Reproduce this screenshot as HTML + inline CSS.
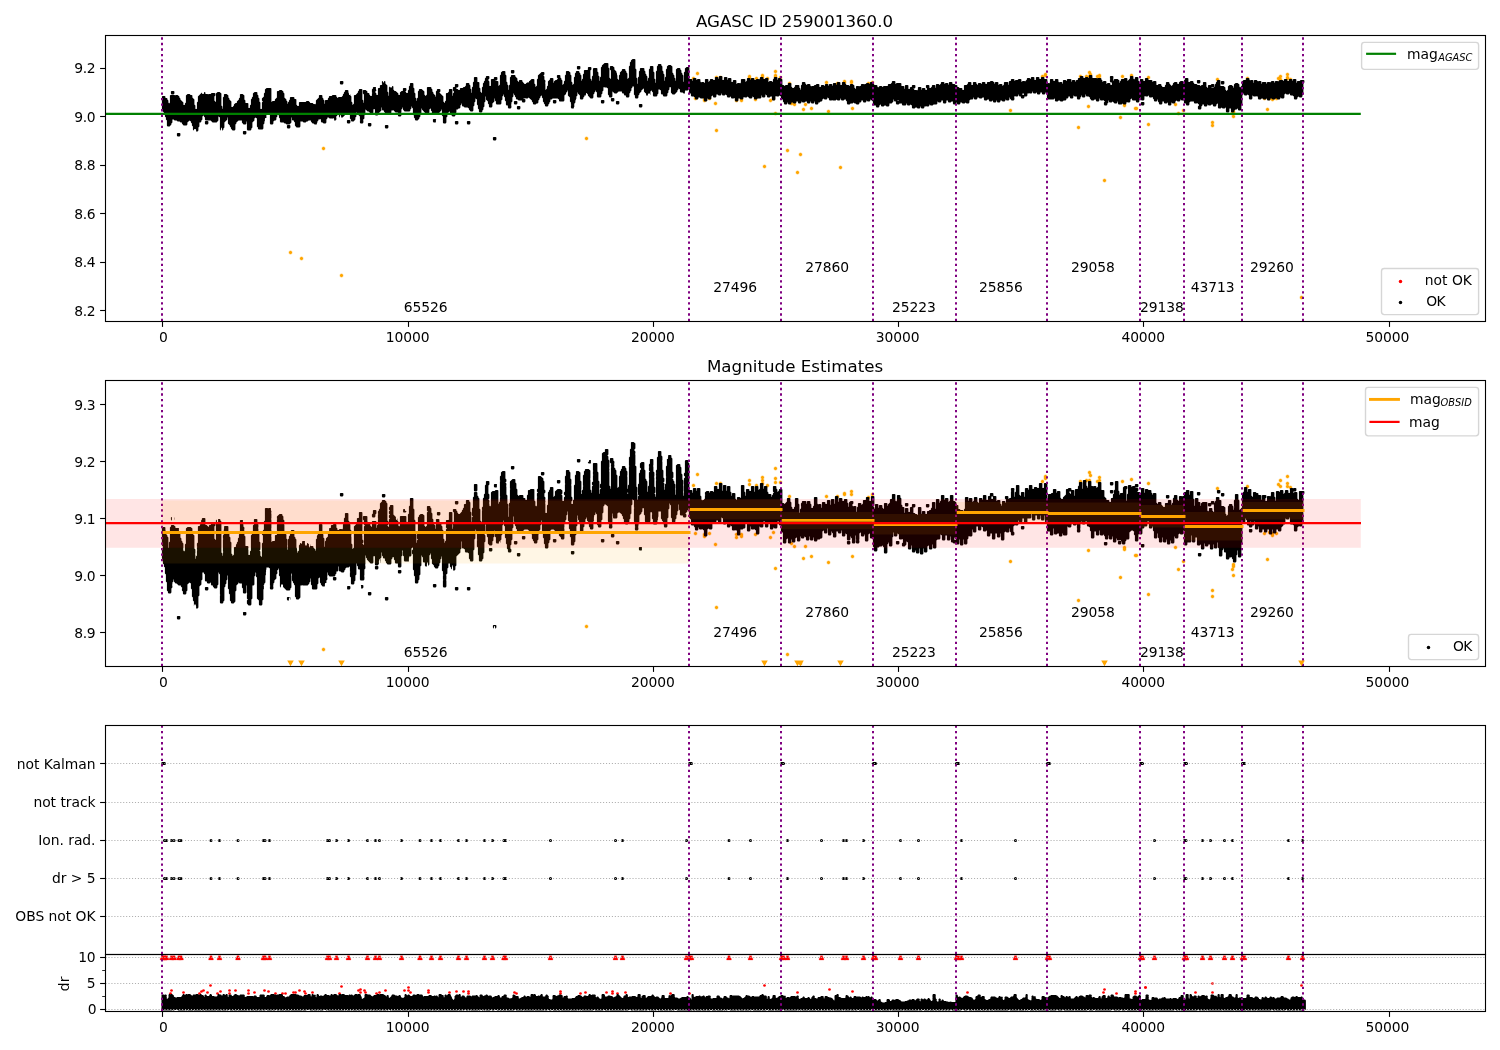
<!DOCTYPE html>
<html lang="en"><head><meta charset="utf-8"><title>AGASC ID 259001360.0</title>
<style>html,body{margin:0;padding:0;background:#fff}body{width:1500px;height:1050px;overflow:hidden}svg{display:block}</style>
</head><body>
<svg width="1500" height="1050" viewBox="0 0 1500 1050" font-family="'DejaVu Sans','Liberation Sans',sans-serif" fill="#000" role="img" aria-label="AGASC ID 259001360.0 magnitude estimates">
<rect width="1500" height="1050" fill="#fff"/>
<defs>
<clipPath id="c1"><rect x="105.5" y="35.5" width="1380.0" height="286.0"/></clipPath>
<clipPath id="c2"><rect x="105.5" y="380.5" width="1380.0" height="286.0"/></clipPath>
<clipPath id="c3"><rect x="105.5" y="725.5" width="1380.0" height="229.0"/></clipPath>
<clipPath id="c4"><rect x="105.5" y="954.5" width="1380.0" height="57.0"/></clipPath>
</defs>
<g id="panel1">
<g clip-path="url(#c1)">
<path d="M695.8 72.6h3.4v1.8h-3.4zm.8-.8h1.8v3.4h-1.8zM691.8 77.6h3.4v1.8h-3.4zm.8-.8h1.8v3.4h-1.8zM714.8 76.6h3.4v1.8h-3.4zm.8-.8h1.8v3.4h-1.8zM718.8 76.6h3.4v1.8h-3.4zm.8-.8h1.8v3.4h-1.8zM747.8 75.6h3.4v1.8h-3.4zm.8-.8h1.8v3.4h-1.8zM747.8 77.6h3.4v1.8h-3.4zm.8-.8h1.8v3.4h-1.8zM754.8 77.6h3.4v1.8h-3.4zm.8-.8h1.8v3.4h-1.8zM760.8 74.6h3.4v1.8h-3.4zm.8-.8h1.8v3.4h-1.8zM760.8 75.6h3.4v1.8h-3.4zm.8-.8h1.8v3.4h-1.8zM760.8 76.6h3.4v1.8h-3.4zm.8-.8h1.8v3.4h-1.8zM765.8 77.6h3.4v1.8h-3.4zm.8-.8h1.8v3.4h-1.8zM773.8 70.6h3.4v1.8h-3.4zm.8-.8h1.8v3.4h-1.8zM773.8 74.6h3.4v1.8h-3.4zm.8-.8h1.8v3.4h-1.8zM773.8 76.6h3.4v1.8h-3.4zm.8-.8h1.8v3.4h-1.8zM778.8 76.6h3.4v1.8h-3.4zm.8-.8h1.8v3.4h-1.8zM693.8 97.6h3.4v1.8h-3.4zm.8-.8h1.8v3.4h-1.8zM702.8 98.6h3.4v1.8h-3.4zm.8-.8h1.8v3.4h-1.8zM702.8 99.6h3.4v1.8h-3.4zm.8-.8h1.8v3.4h-1.8zM707.8 97.6h3.4v1.8h-3.4zm.8-.8h1.8v3.4h-1.8zM734.8 98.6h3.4v1.8h-3.4zm.8-.8h1.8v3.4h-1.8zM734.8 99.6h3.4v1.8h-3.4zm.8-.8h1.8v3.4h-1.8zM739.8 98.6h3.4v1.8h-3.4zm.8-.8h1.8v3.4h-1.8zM739.8 99.6h3.4v1.8h-3.4zm.8-.8h1.8v3.4h-1.8zM753.8 98.6h3.4v1.8h-3.4zm.8-.8h1.8v3.4h-1.8zM771.8 97.6h3.4v1.8h-3.4zm.8-.8h1.8v3.4h-1.8zM768.8 99.6h3.4v1.8h-3.4zm.8-.8h1.8v3.4h-1.8zM713.8 102.6h3.4v1.8h-3.4zm.8-.8h1.8v3.4h-1.8zM787.8 82.6h3.4v1.8h-3.4zm.8-.8h1.8v3.4h-1.8zM824.8 81.6h3.4v1.8h-3.4zm.8-.8h1.8v3.4h-1.8zM789.8 102.6h3.4v1.8h-3.4zm.8-.8h1.8v3.4h-1.8zM792.8 103.6h3.4v1.8h-3.4zm.8-.8h1.8v3.4h-1.8zM803.8 103.6h3.4v1.8h-3.4zm.8-.8h1.8v3.4h-1.8zM809.8 107.6h3.4v1.8h-3.4zm.8-.8h1.8v3.4h-1.8zM801.8 108.6h3.4v1.8h-3.4zm.8-.8h1.8v3.4h-1.8zM835.8 82.6h3.4v1.8h-3.4zm.8-.8h1.8v3.4h-1.8zM842.8 80.6h3.4v1.8h-3.4zm.8-.8h1.8v3.4h-1.8zM842.8 81.6h3.4v1.8h-3.4zm.8-.8h1.8v3.4h-1.8zM849.8 80.6h3.4v1.8h-3.4zm.8-.8h1.8v3.4h-1.8zM849.8 81.6h3.4v1.8h-3.4zm.8-.8h1.8v3.4h-1.8zM866.8 82.6h3.4v1.8h-3.4zm.8-.8h1.8v3.4h-1.8zM870.8 81.6h3.4v1.8h-3.4zm.8-.8h1.8v3.4h-1.8zM850.8 107.6h3.4v1.8h-3.4zm.8-.8h1.8v3.4h-1.8zM1040.8 75.6h3.4v1.8h-3.4zm.8-.8h1.8v3.4h-1.8zM1043.8 73.6h3.4v1.8h-3.4zm.8-.8h1.8v3.4h-1.8zM1043.8 74.6h3.4v1.8h-3.4zm.8-.8h1.8v3.4h-1.8zM1008.8 109.6h3.4v1.8h-3.4zm.8-.8h1.8v3.4h-1.8zM1087.8 71.6h3.4v1.8h-3.4zm.8-.8h1.8v3.4h-1.8zM1088.8 73.6h3.4v1.8h-3.4zm.8-.8h1.8v3.4h-1.8zM1087.8 75.6h3.4v1.8h-3.4zm.8-.8h1.8v3.4h-1.8zM1084.8 75.6h3.4v1.8h-3.4zm.8-.8h1.8v3.4h-1.8zM1078.8 75.6h3.4v1.8h-3.4zm.8-.8h1.8v3.4h-1.8zM1097.8 74.6h3.4v1.8h-3.4zm.8-.8h1.8v3.4h-1.8zM1097.8 75.6h3.4v1.8h-3.4zm.8-.8h1.8v3.4h-1.8zM1095.8 75.6h3.4v1.8h-3.4zm.8-.8h1.8v3.4h-1.8zM1120.8 75.6h3.4v1.8h-3.4zm.8-.8h1.8v3.4h-1.8zM1129.8 74.6h3.4v1.8h-3.4zm.8-.8h1.8v3.4h-1.8zM1086.8 105.6h3.4v1.8h-3.4zm.8-.8h1.8v3.4h-1.8zM1122.8 103.6h3.4v1.8h-3.4zm.8-.8h1.8v3.4h-1.8zM1122.8 104.6h3.4v1.8h-3.4zm.8-.8h1.8v3.4h-1.8zM1133.8 107.6h3.4v1.8h-3.4zm.8-.8h1.8v3.4h-1.8zM1134.8 107.6h3.4v1.8h-3.4zm.8-.8h1.8v3.4h-1.8zM1146.8 76.6h3.4v1.8h-3.4zm.8-.8h1.8v3.4h-1.8zM1173.8 103.6h3.4v1.8h-3.4zm.8-.8h1.8v3.4h-1.8zM1181.8 109.6h3.4v1.8h-3.4zm.8-.8h1.8v3.4h-1.8zM1176.8 112.6h3.4v1.8h-3.4zm.8-.8h1.8v3.4h-1.8zM1215.8 78.6h3.4v1.8h-3.4zm.8-.8h1.8v3.4h-1.8zM1231.8 110.6h3.4v1.8h-3.4zm.8-.8h1.8v3.4h-1.8zM1231.8 112.6h3.4v1.8h-3.4zm.8-.8h1.8v3.4h-1.8zM1230.8 112.6h3.4v1.8h-3.4zm.8-.8h1.8v3.4h-1.8zM1245.8 77.6h3.4v1.8h-3.4zm.8-.8h1.8v3.4h-1.8zM1285.8 73.6h3.4v1.8h-3.4zm.8-.8h1.8v3.4h-1.8zM1278.8 75.6h3.4v1.8h-3.4zm.8-.8h1.8v3.4h-1.8zM1276.8 77.6h3.4v1.8h-3.4zm.8-.8h1.8v3.4h-1.8zM1285.8 76.6h3.4v1.8h-3.4zm.8-.8h1.8v3.4h-1.8zM1278.8 78.6h3.4v1.8h-3.4zm.8-.8h1.8v3.4h-1.8zM1285.8 77.6h3.4v1.8h-3.4zm.8-.8h1.8v3.4h-1.8zM1288.8 78.6h3.4v1.8h-3.4zm.8-.8h1.8v3.4h-1.8zM1265.8 108.6h3.4v1.8h-3.4zm.8-.8h1.8v3.4h-1.8zM1270.8 97.6h3.4v1.8h-3.4zm.8-.8h1.8v3.4h-1.8zM1270.8 98.6h3.4v1.8h-3.4zm.8-.8h1.8v3.4h-1.8zM1262.8 97.6h3.4v1.8h-3.4zm.8-.8h1.8v3.4h-1.8zM1267.8 97.6h3.4v1.8h-3.4zm.8-.8h1.8v3.4h-1.8zM1274.8 97.6h3.4v1.8h-3.4zm.8-.8h1.8v3.4h-1.8zM321.8 147.6h3.4v1.8h-3.4zm.8-.8h1.8v3.4h-1.8zM288.8 251.6h3.4v1.8h-3.4zm.8-.8h1.8v3.4h-1.8zM299.8 257.6h3.4v1.8h-3.4zm.8-.8h1.8v3.4h-1.8zM339.8 274.6h3.4v1.8h-3.4zm.8-.8h1.8v3.4h-1.8zM584.8 137.6h3.4v1.8h-3.4zm.8-.8h1.8v3.4h-1.8zM714.8 129.6h3.4v1.8h-3.4zm.8-.8h1.8v3.4h-1.8zM762.8 165.6h3.4v1.8h-3.4zm.8-.8h1.8v3.4h-1.8zM785.8 149.6h3.4v1.8h-3.4zm.8-.8h1.8v3.4h-1.8zM798.8 153.6h3.4v1.8h-3.4zm.8-.8h1.8v3.4h-1.8zM795.8 171.6h3.4v1.8h-3.4zm.8-.8h1.8v3.4h-1.8zM838.8 166.6h3.4v1.8h-3.4zm.8-.8h1.8v3.4h-1.8zM1102.8 179.6h3.4v1.8h-3.4zm.8-.8h1.8v3.4h-1.8zM1299.8 296.6h3.4v1.8h-3.4zm.8-.8h1.8v3.4h-1.8zM1076.8 126.6h3.4v1.8h-3.4zm.8-.8h1.8v3.4h-1.8zM1118.8 116.6h3.4v1.8h-3.4zm.8-.8h1.8v3.4h-1.8zM1146.8 123.6h3.4v1.8h-3.4zm.8-.8h1.8v3.4h-1.8zM1210.8 121.6h3.4v1.8h-3.4zm.8-.8h1.8v3.4h-1.8zM1210.8 124.6h3.4v1.8h-3.4zm.8-.8h1.8v3.4h-1.8zM1231.8 115.6h3.4v1.8h-3.4zm.8-.8h1.8v3.4h-1.8zM773.8 112.6h3.4v1.8h-3.4zm.8-.8h1.8v3.4h-1.8zM826.8 110.6h3.4v1.8h-3.4zm.8-.8h1.8v3.4h-1.8z" fill="#ffa500"/>
<path d="M493.6 136.9l-.7 .7l0 2l.7 .8l2 0l.8-.8l0-2l-.8-.7zM177.6 132.9l-.7 .7l0 2l.7 .8l2 0l.8-.8l0-2l-.8-.7zM243.6 130.9l-.7 .7l0 2l.7 .8l2 0l.8-.8l0-2l-.8-.7zM385.6 124.9l-.7 .7l0 2l.7 .8l2 0l.8-.8l0-2l-.8-.7zM287.6 124.9l-.7 .7l0 2l.7 .8l2 0l.8-.8l0-2l-.8-.7zM368.6 122.9l-.7 .7l0 2l.7 .8l2 0l.8-.8l0-2l-.8-.7zM467.6 120.9l-.7 .7l0 2l.7 .8l2 0l.8-.8l0-2l-.8-.7zM455.6 120.9l-.7 .7l0 2l.7 .8l2 0l.8-.8l0-2l-.8-.7zM205.6 120.9l-.7 .7l0 2l.7 .8l2 0l.8-.8l0-2l-.8-.7zM347.6 119.9l-.7 .7l0 2l.7 .8l2 0l.8-.8l0-2l-.8-.7zM433.6 118.9l-.7 .7l0 2l.7 .8l2 0l.3-.3l0-2l.2-.2l0-.5l-.5-.5zM517.6 105.9l-.7 .7l0 2l.7 .8l2 0l.8-.8l0-2l-.8-.7zM639.6 103.9l-.7 .7l0 2l.7 .8l2 0l.8-.8l0-2l-.8-.7zM1141.6 101.9l-.7 .7l0 2l.7 .8l2 0l.8-.8l0-2l-.8-.7zM616.6 100.9l-.7 .7l0 2l.7 .8l2 0l.8-.8l0-2l-.8-.7zM514.6 100.9l-.7 .7l0 2l.7 .8l2 0l.8-.8l0-2l-.8-.7zM601.6 99.9l-.7 .7l0 2l.7 .8l2 0l.8-.8l0-2l-.8-.7zM553.6 99.9l-.7 .7l0 2l.7 .8l2 0l.8-.8l0-2l-.8-.7zM611.6 97.9l-.7 .7l0 2l.7 .8l2 0l.8-.8l0-2l-.8-.7zM171.6 90.9l-.7 .7l0 2l.7 .8l2 0l.8-.8l0-2l-.8-.7zM1221.6 80.9l-.7 .7l0 2l.7 .8l2 0l.8-.8l0-2l-.8-.7zM340.6 80.9l-.7 .7l0 2l.7 .8l2 0l.8-.8l0-2l-.8-.7zM1197.6 79.9l-.7 .7l0 2l.7 .8l2 0l.8-.8l0-2l-.8-.7zM511.6 69.9l-.7 .7l0 2l.7 .8l2 0l.8-.8l0-2l-.8-.7zM577.6 65.9l-.7 .7l0 2l.7 .8l2 0l.8-.8l0-2l-.8-.7zM161.9 109.6l1 1l0 1l1 1l0 1l1 1l0 2l1 1l0 2l1 1l0 5l.7 .8l2 0l1.8-1.8l0-1l1-1l0-3l.2-.2l1 0l1 1l2 0l1 1l2 0l1 1l1 0l.3 .2l0 1l1.7 1.8l3 0l.8-.8l0-2l2.2-2.2l1.3 1.2l0 1l1 1l0 2l1 1l0 3l.7 .8l.3 0l0-.5l.5-1l1.2 0l.5 1l0 1.5l1.5 0l.8-.8l0-3l1-1l0-4l.2-.2l1 0l.8-.8l0-1l1-1l0-3l1.2-1.2l.3 .2l0 1l1 1l0 2l.7 .8l5 0l2 2l4 0l1.8-1.8l0-4l.2-.2l1.3 1.2l0 12l.7 .8l.3 0l0-1.5l.2-.3l0-.7l.3-.3l.5 .3l0 .7l.2 .3l0 1.5l.5 0l.8-.8l0-1l1-1l0-5l3-3l0-2l.2-.2l.3 .2l0 6l2 2l0 1l1 1l0 1l1.7 1.8l2 0l.8-.8l0-5l1-1l0-1l2.2-2.2l3 0l.3 .2l0 2l1.7 1.8l2 0l.8-.8l0-2l.2-.2l.3 .2l0 8l.7 .8l3 0l.8-.8l0-1l1-1l0-5l2-2l0-2l1.2-1.2l1.3 1.2l0 8l1 1l0 1l.7 .8l4 0l.8-.8l0-4l1-1l0-2l.5-.5l0-2l.2-.2l0-.8l.3-.2l1 0l0-3.3l.2-.2l2 0l.5-.5l.8 .7l0 9l.7 .8l2 0l.8-.8l0-2l1.2-1.2l1 0l.8-.8l0-2l1-1l0-2l.2-.2l1.3 1.2l0 2l1 1l0 3l.7 .8l3 0l1 1l1 0l1 1l3 0l1.8-1.8l0-5l.2-.2l.3 .2l0 2l.7 .8l1 0l.3 .2l0 1l1 1l0 3l1.7 1.8l3 0l.8-.8l0-5l.2-.2l2 0l1 1l2 0l1-1l1 0l1-1l2 0l.3 .2l0 1l1.7 1.8l1 0l1 1l2 0l.3-.3l0-1l.5-.5l0-1l1-1l0-1l.2-.2l1 0l.5-.5l.8 .7l0 2l.7 .8l1 0l1 1l2 0l.8-.8l0-3l1-1l0-1l.2-.2l1 0l1 1l3 0l.3 .2l0 1l.2-1.2l.5-.3l.5 1l0 1.3l1.5 0l.8-.8l0-2l-.5-.5l1.5-1.5l0-1l.7-.7l.8 .7l0 2l.7 .8l.3 0l0-1.5l.5-1l.5 .2l0 .5l.2 .3l0 1.5l1.5 0l3-3l1 0l1-1l1 0l1.3 1.2l0 4l1 1l0 1l.7 .8l2 0l1.8-1.8l0-2l1-1l0-4l.2-.2l.3 .2l0 1l3 3l0 3l.5 .5l-.5 .5l0 2l.7 .8l2 0l.8-.8l0-2l-.5-.5l1.5-1.5l0-3l1-1l0-5l.2-.2l2 2l1 0l2 2l2 0l.8-.8l0-3l.7-.7l.8 .7l0 5l.7 .8l2 0l.3-.3l0-1l3.5-3.5l0-3l.2-.2l.3 .2l0 2l.7 .8l1 0l.3 .2l0 1l1.7 1.8l5 0l.8-.8l0-2l.2-.2l1 0l.5-.5l2.5 2.5l2 0l.8 .7l-.5 .5l0 2l.7 .8l2 0l.8-.8l0-2l-.5-.5l.5-.5l0-3l1-1l0-1l.2-.2l.3 .2l0 2l1.7 1.8l5 0l.8-.8l0-1l1-1l0-2l.2-.2l.3 .2l0 1l1 1l0 6l1 1l0 2l1 1l0 1l.7 .8l2 0l1.8-1.8l0-1l1-1l0-2l1-1l0-5l.2-.2l.3 .2l0 1l3.7 3.8l3 0l.8-.8l0-3l1.2-1.2l.3 .2l0 2l1 1l0 2l.7 .8l6 0l.8-.8l0-1l2-2l0-1l.2-.2l.3 .2l0 6l1 1l0 6l.7 .8l2 0l.8-.8l0-5l1-1l0-2l1-1l0-1l1.2-1.2l.3 .2l0 2l2.7 2.8l2 0l.8-.8l0-2l1-1l0-3l.2-.2l1 0l1-1l1 0l.8-.8l0-2l1-1l0-1l.2-.2l.3 .2l0 2l.7 .8l1 0l1 1l3 0l1.3 1.2l0 1l1.7 1.8l2 0l.8-.8l0-4l1-1l0-3l1-1l0-3l.2-.2l1.3 1.2l0 5l1 1l0 3l1 1l0 2l.7 .8l2 0l.8-.8l0-1l1-1l0-2l1-1l0-4l1-1l0-5l.2-.2l.3 .2l0 3l2 2l0 2l1 1l0 2l.7 .8l2 0l.8-.8l0-3l2-2l0-3l.2-.2l.3 .2l0 2l1 1l0 2l.7 .8l4 0l.8-.8l0-3l1-1l0-3l1-1l0-1l.2-.2l.3 .2l0 2l1 1l0 3l1 1l0 3l.7 .8l1 0l.3 .2l0 2l.7 .8l2 0l.8-.8l0-2l-.5-.5l.5-.5l0-2l1-1l0-4l1-1l0-3l.2-.2l.3 .2l0 1l1 1l0 1l1 1l0 1l.7 .8l1 0l1 1l3 0l.3 .2l0 1l.7 .8l2 0l.8-.8l0-2l-.8-.7l-1 0l-.2-.3l.2-.2l1 0l.5-.5l.5 .5l2 0l1-1l3.3 3.2l0 1l1 1l0 1l.7 .8l2 0l1-1l1 0l.8-.8l0-2l1-1l0-1l1-1l0-1l1.2-1.2l.3 .2l0 2l1 1l0 3l1 1l0 1l1 1l0 1l.7 .8l2 0l.8-.8l0-1l1-1l0-1l1-1l0-2l.2-.2l1 0l1-1l5 0l1.3 1.2l.2 1.3l.5 .5l4 0l.8-.8l0-5l1.7-1.7l0-.8l.3-.5l1-1l0-1l.2-.2l.3 .2l0 5l2 2l0 4l1 1l0 2l.5 .5l-.5 .5l0 2l.7 .8l2 0l.3-.3l0-1l.5-.7l0-.8l-.5-.5l.5-.5l0-1l1-1l0-2l.5-.5l0-.7l.5-.8l0-2l1-1l0-3l.2-.2l.3 .2l0 1l2 2l0 3l.7 .8l2 0l.8-.8l0-1l1-1l0-1l.2-.2l1 0l.3-.3l0-1l.2-.2l0-.8l.3-.2l.5 .2l0 .5l1 1l0 1l2.7 2.8l2 0l.8-.8l0-3l1-1l0-1l1-1l0-1l.2-.2l.3 .2l0 1l1 1l0 4l.7 .8l3 0l.8-.8l0-2l1-1l0-2l1-1l0-3l.7-.7l.5 .5l2 0l1.3 1.2l0 6l1 1l0 1l.7 .8l2 0l.8-.8l0-5l.2-.2l2 2l2 0l2-2l3 0l.3 .2l0 1l.7 .8l1 0l.3 .2l0 1l.7 .8l1 0l.3 .2l0 1l.7 .8l2 0l.8-.8l0-3l1-1l0-1l1-1l0-2l1-1l0-1l.2-.2l1 0l.3 .2l0 8l1 1l0 2l.7 .8l2 0l.8-.8l0-2l1-1l0-1l2-2l0-1l2.2-2.2l.3 .2l0 3l1 1l0 .5l.7 0l.3 .3l0 .5l.2 .2l0 1.3l1.8 0l0-1l.5-1l1.2 0l.3 .2l.2 1.3l.3-.3l0-3l1.2-1.2l.3 .2l0 1l1 1l0 3l.7 .8l3 0l.8-.8l0-1l1-1l0-4l.2-.2l1 0l1.3 1.2l0 3l.7 .8l1 0l.3 .2l0 1l.7 .8l3 0l.8-.8l0-2l1-1l0-2l1-1l0-2l.7-.7l.8 .7l0 5l1.7 1.8l2 0l2.8-2.8l0-1l1-1l0-1l.2-.2l1.3 1.2l0 2l.7 .8l2 0l1 1l1.3 0l0-1.8l.2-.2l0-.8l.3-.2l1.2 0l.3 .2l0 .5l1.7-1.7l.3 .2l0 3l.7 .8l1 0l.3 .2l0 2l.7 .8l2 0l1.3 1.2l0 1l.7 .8l2 0l.8-.8l0-1l.2-.2l1 0l1 1l3 0l.3 .2l0 2l.7 .8l2 0l.8-.8l0-2l.2-.2l1 1l2 0l.8-.8l0-2l1.2-1.2l.3 .2l0 1l.7 .8l2 0l.8-.8l0-2l.2-.2l1 0l1 1l2 0l.8-.8l0-1l.2-.2l.3 .2l0 1l.7 .8l2 0l1-1l1.3 1.2l0 1l.7 .8l2 0l1-1l.3 .2l0 1l.7 .8l2 0l.5-.5l.8 .7l0 2l.7 .8l2 0l.8-.8l0-2l.2-.2l1 0l1 1l2 0l.8-.8l0-1l.7-.7l.5 .5l2 0l1-1l2 2l2 0l.8-.8l0-1l.2-.2l1.3 1.2l0 1l.7 .8l2 0l1-1l3 0l.8-.8l0-2l.2-.2l.3 .2l0 1l.7 .8l2 0l.8-.8l0-2l.2-.2l1.3 1.2l0 1l.7 .8l2 0l1-1l1 0l.3 .2l0 3l.7 .8l2 0l.8-.8l0-3l.7-.7l.5 .5l2 0l1-1l1.3 1.2l0 2l.7 .8l1 0l.3 .2l0 2l1 1l0 1l.7 .8l2 0l.8-.8l0-1l.2-.2l.3 .2l0 1l.7 .8l2 0l.8-.8l0-1l.2-.2l1 0l1 1l2 0l.8-.8l0-1l.2-.2l1 0l.3 .2l0 1l.7 .8l2 0l.8-.8l0-1l.2-.2l1 1l2 0l1-1l1 0l.3 .2l0 1l.7 .8l2 0l.8-.8l0-1l.2-.2l.3 .2l0 1l.7 .8l2 0l.8-.8l0-1l.2-.2l.3 .2l0 2l.7 .8l2 0l.8-.8l0-1l.2-.2l1 0l1-1l1 0l.8-.8l0-1l1.2-1.2l1 1l2 0l.8-.8l0-1l.2-.2l1.3 1.2l0 1l.7 .8l2 0l.5-.5l.5 .5l3 0l1-1l1 1l2 0l.8-.8l0-1l.2-.2l.3 .2l0 1l.7 .8l2 0l1-1l1 0l.3 .2l0 1l1 1l0 2l.7 .8l2 0l1-1l2 0l1-1l1 1l1 0l1 1l2 0l.8-.8l0-1l.2-.2l1 0l.8-.8l0-1l.2-.2l1 0l.3 .2l0 1l.7 .8l2 0l.8-.8l0-1l.2-.2l1 1l2 0l.8-.8l0-1l.2-.2l2.3 2.2l0 3l.7 .8l2 0l.3 .2l0 1l.7 .8l2 0l.8-.8l0-1l1.2-1.2l.3 .2l0 1l.7 .8l2 0l1-1l1 0l1 1l2 0l.8-.8l0-2l.2-.2l2 0l1.8-1.8l0-2l.2-.2l.3 .2l0 1l.7 .8l1 0l.3 .2l0 2l.7 .8l2 0l1-1l2 0l.3 .2l0 1l.7 .8l3 0l.8-.8l0-1l.2-.2l.3 .2l0 1l.7 .8l2 0l1-1l1.3 1.2l0 2l.7 .8l2 0l1-1l1 0l1 1l2 0l.8-.8l0-1l.2-.2l.3 .2l0 1l.7 .8l2 0l.8-.8l0-1l.2-.2l1 0l.5-.5l.5 .5l2 0l.8-.8l0-1l.2-.2l1 1l2 0l1-1l3 0l.8-.8l0-2l.2-.2l1 1l2 0l.8-.8l0-1l.2-.2l1 0l.3 .2l0 2l.7 .8l2 0l.8-.8l0-2l.2-.2l1 0l.3 .2l0 1l.7 .8l2 0l1-1l1 0l.3 .2l0 2l.7 .8l2 0l.8-.8l0-1l.2-.2l.3 .2l0 1l.7 .8l2 0l.8-.8l0-1l.2-.2l1 0l1 1l2 0l1-1l1 1l2 0l.8-.8l0-2l1.2-1.2l2 0l.8-.8l0-1l.2-.2l.3 .2l0 1l.7 .8l2 0l.8-.8l0-1l.2-.2l1 0l1 1l2 0l1-1l1 0l.3 .2l0 2l.7 .8l2 0l1-1l1 0l.3 .2l0 1l.7 .8l2 0l1-1l.3 .2l0 1l.7 .8l2 0l.8-.8l0-1l.2-.2l.3 .2l0 1l.7 .8l2 0l.8-.8l0-1l.2-.2l1 0l1 1l2 0l.8-.8l0-1l.2-.2l1 1l2 0l.8-.8l0-2l.2-.2l.3 .2l0 1l1.7 1.8l2 0l.8-.8l0-2l-.5-.5l1.2-1.2l.5 .5l2 0l.8-.8l0-1l.2-.2l.3 .2l0 1l.7 .8l1 0l.3 .2l0 1l.7 .8l2 0l.8-.8l0-1l.2-.2l2 0l.8-.8l0-2l.2-.2l1 0l.5-.5l.5 .5l2 0l.8-.8l0-1l.2-.2l.3 .2l0 1l.7 .8l2 0l1-1l.3 .2l0 1l.7 .8l2 0l.8-.8l0-1l.2-.2l1 0l.3 .2l0 1l.7 .8l2 0l.8-.8l0-1l.2-.2l.3 .2l0 1l1 1l0 4l.7 .8l6 0l1-1l.3 .2l0 2l.7 .8l2 0l1-1l1 0l1 1l2 0l1-1l2 0l.8-.8l0-1l.2-.2l1 0l.8-.8l0-1l.2-.2l1 0l.3 .2l0 1l.7 .8l2 0l.8-.8l0-2l.2-.2l1 1l2 0l.3 .2l0 2l.7 .8l2 0l.8-.8l0-1l1-1l0-1l.2-.2l.3 .2l0 1l.7 .8l2 0l.8-.8l0-2l.2-.2l.3 .2l0 1l.7 .8l2 0l1.3 1.2l0 1l1.7 1.8l2 0l1-1l1 0l.3 .2l0 1l.7 .8l2 0l.8-.8l0-2l.2-.2l.3 .2l0 1l.7 .8l2 0l.5-.5l1.8 1.7l-1 1l0 2l.7 .8l2 0l.8-.8l0-1l1-1l0-2l.2-.2l.3 .2l0 1l.7 .8l2 0l1-1l2 2l2 0l.8-.8l0-1l.2-.2l.3 .2l0 2l.7 .8l3 0l1-1l1 1l2 0l.8-.8l0-1l.7-.7l.5 .5l2 0l.8-.8l0-2l1.2-1.2l.3 .2l0 1l.7 .8l3 0l.3 .2l0 1l.7 .8l2 0l.8-.8l0-2l1-1l0-1l.2-.2l.3 .2l0 2l.7 .8l2 0l.8-.8l0-3l.7-.7l.5 .5l2 0l1-1l.3 .2l0 1l.7 .8l2 0l.5-.5l.8 .7l0 1l1 1l0 1l.7 .8l2 0l.8-.8l0-1l.2-.2l.3 .2l0 2l1 1l0 1l.7 .8l2 0l.8-.8l0-2l.2-.2l1 0l.3 .2l0 1l.7 .8l2 0l1-1l.3 .2l0 2l.7 .8l2 0l.8-.8l0-2l.2-.2l1 1l2 0l.8-.8l0-1l1.2-1.2l1 1l2 0l.8-.8l0-1l.2-.2l1 1l2 0l.3 .2l0 2l.7 .8l1 0l.3 .2l0 1l.7 .8l2 0l.8-.8l0-2l1.2-1.2l3 0l.3 .2l0 1l.7 .8l2 0l.5-.5l1.8 1.7l0 1l-1 1l0 2l.7 .8l2 0l.8-.8l0-2l1-1l0-1l.2-.2l1 0l.3 .2l0 1l.7 .8l2 0l.8-.8l0-1l.2-.2l1 1l2 0l1-1l1 0l.3 .2l0 1l.7 .8l2 0l.8-.8l0-1l1.2-1.2l.3 .2l0 4l.7 .8l2 0l1-1l1 1l2 0l1-1l.3 .2l0 4l.7 .8l2 0l.8-.8l0-3l.2-.2l1 0l.3 .2l0 3l.7 .8l2 0l.8-.8l0-1l1.2-1.2l1 0l1-1l.3 .2l0 1l.7 .8l2 0l.8-.8l0-5l1-1l0-8l1-1l0-1l.2-.2l.3 .2l0 1l.7 .8l2 0l1-1l1.3 1.2l0 3l.7 .8l2 0l.8-.8l0-3l.2-.2l1 1l2 0l.5-.5l.5 .5l1 0l.3 .2l0 2l.7 .8l2 0l1-1l1 0l1 1l2 0l1-1l.3 .2l0 1l.7 .8l2 0l.8-.8l0-1l.2-.2l1 0l1 1l2 0l1-1l1 0l1 1l2 0l.8-.8l0-1l.2-.2l1 1l2 0l.8-.8l0-3l1.2-1.2l1 1l2 0l1-1l.3 .2l0 1l.7 .8l2 0l1.3 1.2l0 2l.7 .8l2 0l.8-.8l0-1l1.2-1.2l1 1l2 0l.8-.8l0-1l1-1l0-11l1-1l0-2l-.8-.7l-3 0l-1 1l-2 0l-.7 .7l0 1l-.3 .3l-.2-.3l0-3l-.8-.7l-2 0l-.7 .7l0 1l-.3 .3l-.2-.3l0-1l-.8-.7l-2 0l-.7 .7l0 1l-.3 .3l-1 0l-.2-.3l0-1l-.8-.7l-2 0l-.7 .7l0 1l-.3 .3l-1-1l-3 0l-1.5 1.5l-.5-.5l-2 0l-.7 .7l0 1l-.3 .3l-.2-.3l0-1l-.8-.7l-2 0l-1.5 1.5l-.5-.5l-2 0l-.7 .7l0 1l-.3 .3l-.2-.3l0-1l-.8-.7l-3 0l-.7 .7l0 1l-.3 .3l-.2-.3l0-2l-.8-.7l-2 0l-.5 .5l-1.5-1.5l-2 0l-.7 .7l0 2l-.3 .3l-.2-.3l0-2l-.8-.7l-2 0l-.5 .5l-.7-.8l0-1l-.8-.7l-2 0l-.7 .7l0 1l-.3 .3l-2 0l-1.7 1.7l0 4l-1.8 1.8l-.7-.8l0-2l-1.8-1.7l-2 0l-1.7 1.7l0 3l-.3 .3l-.2-.3l0-1l-1.8-1.7l-2 0l-1.7 1.7l0 3l-1.3 1.3l-1.2-1.3l0-2l-1.8-1.7l-3 0l-.2-.3l0-5l-.8-.7l-2 0l-.7 .7l0 1l-1 1l0 1l-1 1l0 2l-.3 .3l-.2-.3l0-2l-.8-.7l-2 0l-1 1l-2 0l-.7 .7l0 2l-.3 .3l-1.2-1.3l0-4l-.8-.7l-2 0l-.7 .7l0 2l-.3 .3l-1 0l-1 1l-1-1l-2 0l-1-1l-2 0l-1.2-1.3l0-1l-.8-.7l-2 0l-1 1l-1 0l-.2-.3l0-3l-.8-.7l-2 0l-.7 .7l0 1l-1 1l0 3l-.3 .3l-.2-.3l0-2l-.8-.7l-2 0l-1.7 1.7l0 1l-.3 .3l-1 0l-.2-.3l0-1l-.8-.7l-2 0l-1.7 1.7l0 1l-1.3 1.3l-2.2-2.3l0-1l-.8-.7l-2 0l-.7 .7l0 2l-1 1l0 1l-.3 .3l-2 0l-1.2-1.3l0-1l-.8-.7l-2 0l-1 1l-1 0l-.2-.3l0-3l-.8-.7l-2 0l-1 1l-.2-.3l0-1l-.8-.7l-3 0l-.2-.3l0-1l-.8-.7l-2 0l-.7 .7l0 2l-.3 .3l-1 0l-.2-.3l0-1l-.8-.7l-2 0l-.7 .7l0 2l-.3 .3l-1.2-1.3l0-3l-.8-.7l-2 0l-.7 .7l0 1l-.8 .8l-.7-.8l0-2l-.8-.7l-2 0l-.7 .7l0 2l-2.3 2.3l-.2-.3l0-2l-.8-.7l-2 0l-1 1l-2 0l-.7 .7l0 1l-1 1l0 1l-.3 .3l-.2-.3l0-2l-1.8-1.7l-3 0l-.7 .7l0 1l-.3 .3l-.2-.3l0-1l-.5-.5l.5-.5l0-2l-.8-.7l-2 0l-.7 .7l0 2l.5 .5l-.5 .5l0 2l.7 .8l1 0l.3 .2l0 2l-.3 .3l-1 0l-.2-.3l0-1l-.8-.7l-2 0l-1 1l-.2-.3l0-2l-.8-.7l-2 0l-1 1l-.2-.3l0-1l-1-1l0-1l-.8-.7l-3 0l-.5 .5l-.5-.5l-4 0l-.2-.3l0-2l-.8-.7l-2 0l-.7 .7l0 2l-.3 .3l-1-1l-2 0l-1 1l-1 0l-.2-.3l0-1l-.8-.7l-2 0l-.7 .7l0 1l-.3 .3l-1 0l-.7 .7l0 1l-.3 .3l-1 0l-.7 .7l0 1l-.3 .3l-.2-.3l0-1l-.8-.7l-2 0l-.7 .7l0 1l-.3 .3l-.2-.3l0-2l-.8-.7l-3 0l-.7 .7l0 1l-.3 .3l-1-1l-2 0l-.7 .7l0 3l-.3 .3l-.2-.3l0-1l-.8-.7l-2 0l-.5 .5l-.7-.8l0-2l-.8-.7l-2 0l-.7 .7l0 1l-.3 .3l-1 0l-.2-.3l0-1l-.8-.7l-2 0l-.7 .7l0 3l-.8 .8l-.5-.5l-1 0l-.2-.3l0-3l-.8-.7l-2 0l-.2-.3l0-1l-.8-.7l-2 0l-.7 .7l0 1l-.3 .3l-1 0l-.2-.3l0-1l-.8-.7l-2 0l-.7 .7l0 2l-.3 .3l-1 0l-.2-.3l0-2l-.8-.7l-2 0l-.7 .7l0 1l-.3 .3l-1-1l-2 0l-.7 .7l0 1l-1.8 1.8l-.5-.5l-2 0l-1 1l-.2-.3l0-2l-.8-.7l-2 0l-1 1l-2 0l-1 1l-.2-.3l0-1l-.8-.7l-2 0l-.7 .7l0 1l-.3 .3l-1 0l-.7 .7l0 3l-.3 .3l-.2-.3l0-2l-.8-.7l-3 0l-.7 .7l0 2l-1.3 1.3l-.2-.3l0-1l-.8-.7l-2 0l-1 1l-.2-.3l0-2l-.8-.7l-2 0l-.7 .7l0 1l-.3 .3l-.2-.3l0-1l-1.8-1.7l-2 0l-1 1l-2 0l-.7 .7l0 1l-.3 .3l-1 0l-.2-.3l0-1l-.8-.7l-2 0l-.7 .7l0 1l-.3 .3l-1-1l-2 0l-.7 .7l0 1l-.3 .3l-1.2-1.3l0-1l-.8-.7l-2 0l-.7 .7l0 2l-.3 .3l-1 0l-.2-.3l0-2l-.8-.7l-2 0l-.7 .7l0 1l-1.3 1.3l-2 0l-.7 .7l0 4l-.3 .3l-1 0l-.2-.3l0-1l-.8-.7l-2 0l-1-1l-1 0l-.2-.3l0-1l-.8-.7l-1 0l-1-1l-2 0l-.2-.3l0-1l-.8-.7l-2 0l-.7 .7l0 2l-.3 .3l-.2-.3l0-1l-.8-.7l-2 0l-1 1l-.2-.3l0-1l-.8-.7l-2 0l-.7 .7l0 1l-1.3 1.3l-1-1l-2 0l-.7 .7l0 3l-.3 .3l-.2-.3l0-2l-.8-.7l-2 0l-.7 .7l0 1l-1.3 1.3l-1 0l-.2-.3l0-2l-.8-.7l-2 0l-.7 .7l0 2l1 1l0 1l-.3 .3l-1 0l-.2-.3l0-1l-.8-.7l-2 0l-.7 .7l0 1l-.3 .3l-.2-.3l0-2l-.8-.7l-2 0l-.7 .7l0 2l-.8 .8l-.5-.5l-2 0l-1.2-1.3l.2-.2l1 0l.8-.8l0-2l-.8-.7l-2 0l-.7 .7l0 1l-.3 .3l-1 0l-.7 .7l0 1l-.3 .3l-1 0l-.2-.3l0-3l-.8-.7l-2 0l-.7 .7l0 3l-.3 .3l-.2-.3l0-2l-.8-.7l-2 0l-.2-.3l0-2l-.8-.7l-4 0l-1 1l-.2-.3l0-2l-.8-.7l-2 0l-.7 .7l0 1l-1.3 1.3l-2 0l-.7 .7l0 1l-.3 .3l-4 0l-1 1l-1-1l-2 0l-1.5 1.5l-.7-.8l0-1l-.8-.7l-2 0l-1.2-1.3l0-1l-.8-.7l-2 0l-.7 .7l0 1l-.3 .3l-1-1l-2 0l-1 1l-1 0l-.5 .5l-.5-.5l-2 0l-.7 .7l0 1l-.3 .3l-1 0l-.5 .5l-.5-.5l-2 0l-.7 .7l0 2l-.3 .3l-1.2-1.3l0-2l-1.8-1.7l-2 0l-.7 .7l0 1l-.3 .3l-1-1l-2 0l-1.2-1.3l0-1l-.8-.7l-2 0l-.7 .7l0 2l-.3 .3l-1 0l-.2-.3l0-2l-.8-.7l-2 0l-.7 .7l0 2l-.3 .3l-.2-.3l0-1l-.8-.7l-2 0l-.7 .7l0 2l-.3 .3l-.2-.3l0-1l-.8-.7l-2 0l-.7 .7l0 1l-.3 .3l-.2-.3l0-1l-.8-.7l-2 0l-.7 .7l0 1l-.3 .3l-1-1l-2 0l-.7 .7l0 1l-.3 .3l-1 0l-.2-.3l0-2l-.8-.7l-2 0l-1 1l-1 0l-1 1l-2 0l-.5 .5l-.7-.8l0-1l-.8-.7l-2 0l-1 1l-1.2-1.3l0-1l-.8-.7l-2 0l-.7 .7l0 2l-1 1l0 4l-.3 .3l-.2-.3l0-1l-1-1l0-2l-.8-.7l-3 0l-.7 .7l0 1l-1.3 1.3l-1 0l-1.2-1.3l0-3l-.8-.7l-2 0l-.7 .7l0 1l-.3 .3l-2 0l-1 1l-1-1l-1 0l-.2-.3l0-5l-1.8-1.7l-2 0l-.7 .7l0 1l-.3 .3l-.2-.3l0-2l-.8-.7l-2 0l-.7 .7l0 1l-1 1l0 2l-.3 .3l-1-1l-2 0l-1 1l-.2-.3l0-3l-.8-.7l-2 0l-1 1l-1 0l-.2-.3l0-1l-.8-.7l-2 0l-.7 .7l0 1l-.8 .8l-.5-.5l-2 0l-1 1l-1 0l-.2-.3l0-1l-.8-.7l-2 0l-.7 .7l0 1l-.3 .3l-.2-.3l0-1l-.8-.7l-2 0l-.7 .7l0 2l-1.3 1.3l-.2-.3l0-2l-.8-.7l-3 0l-.7 .7l0 3l-.8 .8l-.5-.5l-2 0l-1 1l-.2-.3l0-3l-.8-.7l-2 0l-.7 .7l0 1l-.3 .3l-1 0l-.2-.3l0-3l-.8-.7l-2 0l-.7 .7l0 1l-.3 .3l-.2-.3l0-2l-.8-.7l-2 0l-.7 .7l0 2l-.3 .3l-1 0l-.2-.3l0-3l-.8-.7l-2 0l-.7 .7l0 2l-.3 .3l-.2-.3l0-1l-.8-.7l-2 0l-.7 .7l0 2l-.3 .3l-1 0l-1-1l-2 0l-.7 .7l0 1l-1.3 1.3l-.2-.3l0-2l-.8-.7l-2 0l-.7 .7l0 3l-.3 .3l-1-1l-2 0l-.5 .5l-.7-.8l0-2l-.8-.7l-2 0l-1 1l-.2-.3l0-1l-.8-.7l-2 0l-.7 .7l0 2l-.3 .3l-.2-.3l0-1l-.8-.7l-2 0l-.2-.3l0-11l-.8-.7l-2 0l-1.7 1.7l0 3l-1 1l0 9l-.3 .3l-.2-.3l0-6l-1-1l0-1l-1-1l0-2l-1-1l0-1l-.8-.7l-2 0l-1.7 1.7l0 11l-.3 .3l-.2-.3l0-2l-1-1l0-2l-1-1l0-1l-1-1l0-6l-1.8-1.7l-2 0l-1.7 1.7l0 2l-1 1l0 7l-1 1l0 3l-.3 .3l-.2-.3l0-6l-1-1l0-2l-1-1l0-4l-1-1l0-1l-.8-.7l-2 0l-.7 .7l0 1l-1 1l0 4l-1 1l0 11l-.3 .3l-.2-.3l0-3l-1-1l0-6l-1-1l0-5l-.8-.7l-2 0l-.7 .7l0 2l-1 1l0 8l-1 1l0 2l-.3 .3l-.2-.3l0-4l-1-1l0-1l-1-1l0-2l-1-1l0-2l-.8-.7l-3 0l-.7 .7l0 2l-1 1l0 5l-1 1l0 6l-.3 .3l-.2-.3l0-5l-1-1l0-8l-1-1l0-9l-.8-.7l-2 0l-1.7 1.7l0 1l-1 1l0 3l-1 1l0 11l-1.3 1.3l-.2-.3l0-5l-1-1l0-1l-1-1l0-1l-.8-.7l-2 0l-.7 .7l0 1l-2 2l0 2l-1 1l0 4l-.3 .3l-1.2-1.3l0-3.2l-.3-.3l0-.7l-.2-.3l0-1l-.5-.5l0-1l-2-2l0-2l-1.8-1.7l-2 0l-.7 .7l0 3l1 1l0 8l-.3 .3l-1.2-1.3l0-9l-1-1l0-4l-.8-.7l-3 0l-2.7 2.7l0 1l-1 1l0 9l-1 1l0 3l-.3 .3l-.2-.3l0-4l-1-1l0-3l-1-1l0-3l-.8-.7l-3 0l-.5 .5l0 .7l-.2 .3l0 6.2l-1 1l0 4l-.3 .3l-.2-.3l0-1l-1-1l0-8l1-1l0-2l-.8-.7l-2 0l-.7 .7l0 2l-.3 .3l-3 0l-.7 .7l0 3l-1 1l0 4l-1 1l0 1l-.3 .3l-.2-.3l0-5l-1-1l0-1l-1-1l0-1l-.8-.7l-2 0l-.7 .7l0 1l-1 1l0 3l-1 1l0 6l-1.3 1.3l-.2-.3l0-2l-1-1l0-6l-1-1l0-2l-1.8-1.7l-2 0l-.7 .7l0 3l-1 1l0 5l-1 1l0 2l-1.3 1.3l-.2-.3l0-4l-1-1l0-1l-1-1l0-2l-.8-.7l-2 0l-.7 .7l0 2l1 1l-1.3 1.3l-1 0l-1.7 1.7l0 1l-.3 .3l-.2-.3l0-4l-.8-.7l-2 0l-.7 .7l0 1l-2 2l0 4l-1 1l0 2l-1.3 1.3l-.2-.3l0-6l-.5-.5l.5-.5l0-2l-1-1l0-3l-1-1l1-1l0-2l-.8-.7l-2 0l-3.7 3.7l0 3l-1 1l0 6l-1.3 1.3l-.2-.3l0-2l-1-1l0-4l-.8-.7l-2 0l-2 2l-.5 0l0 .7l-.5 1l-1.2 0l-.3-.2l0-.5l-.2 .2l0 .8l-.3 .2l-.2 0l-.8 .8l-1 0l-2.2-2.3l0-1l-.8-.7l-2 0l-.7 .7l0 1l-.3 .3l-1.2-1.3l0-2l-2-2l0-1l-.8-.7l-3 0l-.7 .7l0 1l-1 1l0 7l-1 1l0 4l-.3 .3l-.2-.3l0-4l-1-1l0-2l-1-1l0-6l-1-1l0-3l-.8-.7l-2 0l-1.7 1.7l0 2l-1 1l0 9l-1.3 1.3l-.2-.3l0-4l-.8-.7l-2 0l-.2-.3l.2-.2l1 0l.8-.8l0-2l-.8-.7l-2 0l-.7 .7l0 1l-.3 .3l-2 0l-.7 .7l0 6l-.3 .3l-1 0l-.2-.3l0-4l-1-1l0-1l1-1l0-2l-.8-.7l-2 0l-.7 .7l0 1l-1 1l0 2l-1 1l0 1l-1 1l0 3l-1 1l0 5l-.3 .3l-1.2-1.3l0-3l-1-1l0-5l-.8-.7l-1 0l-.2-.3l0-4l-.8-.7l-2 0l-.7 .7l0 4l-1 1l0 4l-1 1l0 5l-.3 .3l-.2-.3l0-3l-1-1l0-3l-1-1l0-1l-.8-.7l-2 0l-.7 .7l0 2l-1.3 1.3l-1 0l-1 1l-2 0l-.7 .7l0 1l-.3 .3l-1 0l-1-1l-1 0l-.2-.3l0-1l.2-.2l1 0l.8-.8l0-2l-.8-.7l-2 0l-.7 .7l0 2l-.3 .3l-1 0l-.7 .7l0 3l1 1l0 1l-1 1l0 2l-.3 .3l-.2-.3l0-6l-.8-.7l-2 0l-.7 .7l0 2l-1.3 1.3l-1 0l-.7 .7l0 7l-1 1l0 1l-.3 .3l-1.2-1.3l0-5l-4-4l1-1l0-2l-.8-.7l-2 0l-.7 .7l0 1l-1 1l0 5l-.3 .3l-.2-.3l0-1l-2-2l0-1l-1-1l0-2l-1-1l0-1l-.8-.7l-3 0l-.7 .7l0 7l-1.3 1.3l-1.2-1.3l0-3l-2.8-2.7l-2 0l-.7 .7l0 1l-1 1l0 6l-1 1l0 2l-.3 .3l-.2-.3l0-2l-1-1l0-4l-1-1l0-4l-1-1l0-4l-.8-.7l-2 0l-.7 .7l0 2l-1 1l0 3l-1 1l0 2l-.3 .3l-1 0l-1.2-1.3l1-1l0-2l-.8-.7l-2 0l-.7 .7l0 2l-.3 .3l-1 0l-1.7 1.7l0 2l-.3 .3l-1 0l-.2-.3l0-1l-2.8-2.7l-1 0l-1.2-1.3l0-3l-.8-.7l-.5 0l0 1l-.5 .7l-1.2 0l-.5-1l-1 1l0 8l-.3 .3l-.2-.3l0-3l-1-1l0-6l-2-2l0-2l-.8-.7l-.5 0l0 1l-.2 .5l-.5 .2l-.5-.7l0-1l-.3 0l-.7 .7l0 2l.5 .5l-.8 .8l-1 0l-.7 .7l0 2l-.3 .3l-1 0l-.7 .7l0 6l-.3 .3l-1 0l-.2-.3l0-1l-1-1l0-1l1-1l0-.5l-.3-.2l0-.8l-.2-.2l0-1.8l-.3-.2l-2 0l-.7 .7l0 1l-1 1l0 3l.5 .5l-.5 .5l0 2l-.3 .3l-1 0l-1.2-1.3l0-1l-.8-.7l-1 0l-.2-.3l0-1l-1.8-1.7l-2 0l-.7 .7l0 3l1 1l0 8l-.3 .3l-.2-.3l0-2l-1-1l0-10l-.8-.7l-2 0l-.7 .7l0 1l-1 1l0 1l-2.3 2.3l-1 0l-.7 .7l0 8l-1.3 1.3l-.2-.3l0-2l-1-1l0-5l-1-1l0-1l-.3-.2l-.2 0l0 .5l-.3 .2l-.5-.2l0-.5l-.2-.3l0-1l-.5-.5l0-2l-.8-.7l-2 0l-.7 .7l0 1l-1 1l0 1l-1 1l0 1l-1.3 1.3l-3 0l-1 1l-1.2-1.3l0-1l-.8-.7l-3 0l-1 1l-2 0l-.7 .7l0 1l-1 1l0 1l-.3 .3l-2 0l-.7 .7l0 3l-.3 .3l-.2-.3l0-3l-1-1l0-1l-1-1l0-2l-.8-.7l-2 0l-.7 .7l0 2l-3 3l0 3l-.8 .8l-.5-.5l-1 0l-1-1l-.7 0l-.3 .2l-1.2 0l-.5-.7l0-.5l-.3 0l-1-1l-2 0l-1 1l-6 0l-.7 .7l0 3l-.3 .3l-1 0l-1.2-1.3l0-5l-.8-.7l-1 0l-.2-.3l0-1l-.8-.7l-3 0l-.7 .7l0 2l-1 1l0 1l-1 1l0 1l-.3 .3l-.2-.3l0-2l-1-1l0-1l-2-2l0-4l-1-1l0-1l-1.8-1.7l-2 0l-1 1l-1 0l-.7 .7l0 6l-2 2l0 1l-.3 .3l-2 0l-1 1l-.2-.3l0-13l-.8-.7l-4 0l-1.7 1.7l0 3l-1 1l0 3l-2 2l0 2l1 1l-1 1l0 6l-.3 .3l-1 0l-.2-.3l0-6l-1-1l0-3l-1-1l0-2l-1-1l0-2l-.8-.7l-2 0l-1.7 1.7l0 3l-1 1l0 1l-1 1l0 5l-1 1l0 2l-.3 .3l-1 0l-.2-.3l0-4l-.8-.7l-2 0l-.2-.3l0-2l-1-1l0-4l-1.8-1.7l-2 0l-.7 .7l0 3l-1 1l0 1l-2 2l0 1l-.3 .3l-1 0l-1.7 1.7l0 1l-1.3 1.3l-1 0l-.2-.3l0-5l-2-2l0-1l-1-1l0-2l-1.8-1.7l-2 0l-.7 .7l0 2l-1 1l0 11l-.3 .3l-.2-.3l0-2l-1-1l0-12l-1.8-1.7l-2 0l-1.7 1.7l0 8l-.3 .3l-1.2-1.3l0-4l1-1l0-2l-.8-.7l-3 0l-1 1l-2 0l-.5 .5l-.5-.5l-2 0l-.2-.3l0-1l-.8-.7l-.5 0l0 1l-.5 1l-1.2 0l-.3-.3l0-.5l-.2-.5l-4 4l0 5l-1 1l0 6l-.3 .3l-1 0l-.2-.3l0-3l-1-1l0-5l-2-2l0-2l-.8-.7l-1 0l-1-1l-2 0l-1.7 1.7l0 7l-1 1l0 1l-.3 .3l-1 0l-.2-.3l0-2l-3-3l0-1l-1-1l0-1l-1.8-1.7l-2 0l-.5 .5l-.5-.5l-4 0l-.7 .7l0 7l-.8 .8l-.7-.8l0-2l-1-1l0-1l-.8-.7l-1 0l-.2-.3l0-1l-.8-.7l-2 0l-.7 .7zM897.4 100.6l.2-.2l1 0l.3 .2l-.3 .3l-1 0zM1022.4 93.6l.2-.2l1 0l.3 .2l0 1l-.3 .3l-1 0l-.2-.3zM1211.4 87.6l.2-.2l2 0l.3 .2l-.3 .3l-2 0z" fill="#000" fill-rule="evenodd"/>
<line x1="105.5" y1="113.9" x2="1360.8" y2="113.9" stroke="#008000" stroke-width="2.08" />
<path d="M162 321.15V35.5M689 321.15V35.5M781 321.15V35.5M873 321.15V35.5M956 321.15V35.5M1047 321.15V35.5M1140 321.15V35.5M1184 321.15V35.5M1242 321.15V35.5M1303 321.15V35.5" stroke="#800080" stroke-width="2.04" stroke-dasharray="2.3 3.22" fill="none"/>
</g>
<text x="425.6" y="312.2" font-size="13.89" text-anchor="middle" letter-spacing="-0.09">65526</text>
<text x="735.1" y="292.2" font-size="13.89" text-anchor="middle" letter-spacing="-0.09">27496</text>
<text x="827.1" y="272.2" font-size="13.89" text-anchor="middle" letter-spacing="-0.09">27860</text>
<text x="913.8" y="312.2" font-size="13.89" text-anchor="middle" letter-spacing="-0.09">25223</text>
<text x="1000.8" y="292.2" font-size="13.89" text-anchor="middle" letter-spacing="-0.09">25856</text>
<text x="1092.8" y="272.2" font-size="13.89" text-anchor="middle" letter-spacing="-0.09">29058</text>
<text x="1161.8" y="312.2" font-size="13.89" text-anchor="middle" letter-spacing="-0.09">29138</text>
<text x="1212.6" y="292.2" font-size="13.89" text-anchor="middle" letter-spacing="-0.09">43713</text>
<text x="1271.8" y="272.2" font-size="13.89" text-anchor="middle" letter-spacing="-0.09">29260</text>
<rect x="105.5" y="35.5" width="1380.0" height="286.0" fill="none" stroke="#000" stroke-width="1.11" stroke-linejoin="miter"/>
<line x1="162.5" y1="321.5" x2="162.5" y2="326.9" stroke="#000" stroke-width="1.11" />
<text x="163.25" y="342" font-size="13.89" text-anchor="middle" letter-spacing="-0.09">0</text>
<line x1="408.5" y1="321.5" x2="408.5" y2="326.9" stroke="#000" stroke-width="1.11" />
<text x="407.55" y="342" font-size="13.89" text-anchor="middle" letter-spacing="-0.09">10000</text>
<line x1="653.5" y1="321.5" x2="653.5" y2="326.9" stroke="#000" stroke-width="1.11" />
<text x="652.9" y="342" font-size="13.89" text-anchor="middle" letter-spacing="-0.09">20000</text>
<line x1="898.5" y1="321.5" x2="898.5" y2="326.9" stroke="#000" stroke-width="1.11" />
<text x="897.55" y="342" font-size="13.89" text-anchor="middle" letter-spacing="-0.09">30000</text>
<line x1="1143.5" y1="321.5" x2="1143.5" y2="326.9" stroke="#000" stroke-width="1.11" />
<text x="1143.25" y="342" font-size="13.89" text-anchor="middle" letter-spacing="-0.09">40000</text>
<line x1="1389.5" y1="321.5" x2="1389.5" y2="326.9" stroke="#000" stroke-width="1.11" />
<text x="1387.45" y="342" font-size="13.89" text-anchor="middle" letter-spacing="-0.09">50000</text>
<line x1="100.1" y1="310.5" x2="105.5" y2="310.5" stroke="#000" stroke-width="1.11" />
<text x="95.4" y="316" font-size="13.89" text-anchor="end" letter-spacing="-0.3">8.2</text>
<line x1="100.1" y1="262.5" x2="105.5" y2="262.5" stroke="#000" stroke-width="1.11" />
<text x="95.4" y="267" font-size="13.89" text-anchor="end" letter-spacing="-0.3">8.4</text>
<line x1="100.1" y1="213.5" x2="105.5" y2="213.5" stroke="#000" stroke-width="1.11" />
<text x="95.4" y="219" font-size="13.89" text-anchor="end" letter-spacing="-0.3">8.6</text>
<line x1="100.1" y1="165.5" x2="105.5" y2="165.5" stroke="#000" stroke-width="1.11" />
<text x="95.4" y="170" font-size="13.89" text-anchor="end" letter-spacing="-0.3">8.8</text>
<line x1="100.1" y1="116.5" x2="105.5" y2="116.5" stroke="#000" stroke-width="1.11" />
<text x="95.4" y="122" font-size="13.89" text-anchor="end" letter-spacing="-0.3">9.0</text>
<line x1="100.1" y1="68.5" x2="105.5" y2="68.5" stroke="#000" stroke-width="1.11" />
<text x="95.4" y="73" font-size="13.89" text-anchor="end" letter-spacing="-0.3">9.2</text>
<text x="794.5" y="27.2" font-size="16.67" text-anchor="middle" >AGASC ID 259001360.0</text>
<rect x="1361.6" y="42.4" width="117" height="27" rx="2.8" ry="2.8" fill="#fff" fill-opacity="0.8" stroke="#ccc" stroke-opacity="0.8" stroke-width="1.39"/>
<line x1="1367.2" y1="53.8" x2="1395" y2="53.8" stroke="#008000" stroke-width="2.2" stroke-linecap="square"/>
<text x="1407.1" y="58.6" font-size="13.89">mag<tspan font-size="9.85" font-style="oblique" dy="2.4" dx="0.3">AGASC</tspan></text>
<rect x="1381.5" y="268.5" width="97.1" height="46.1" rx="2.8" ry="2.8" fill="#fff" fill-opacity="0.8" stroke="#ccc" stroke-opacity="0.8" stroke-width="1.39"/>
<circle cx="1400.5" cy="281.5" r="1.74" fill="#f00"/>
<circle cx="1400.5" cy="302.5" r="1.74" fill="#000"/>
<text x="1424.8" y="284.6" font-size="13.89" text-anchor="start" >not OK</text>
<text x="1426.2" y="305.9" font-size="13.89" text-anchor="start" letter-spacing="-0.6">OK</text>
</g>
<g id="panel2">
<g clip-path="url(#c2)">
<path d="M695.8 473.6h3.4v1.8h-3.4zm.8-.8h1.8v3.4h-1.8zM691.8 484.6h3.4v1.8h-3.4zm.8-.8h1.8v3.4h-1.8zM714.8 482.6h3.4v1.8h-3.4zm.8-.8h1.8v3.4h-1.8zM718.8 482.6h3.4v1.8h-3.4zm.8-.8h1.8v3.4h-1.8zM747.8 479.6h3.4v1.8h-3.4zm.8-.8h1.8v3.4h-1.8zM747.8 483.6h3.4v1.8h-3.4zm.8-.8h1.8v3.4h-1.8zM754.8 484.6h3.4v1.8h-3.4zm.8-.8h1.8v3.4h-1.8zM760.8 476.6h3.4v1.8h-3.4zm.8-.8h1.8v3.4h-1.8zM760.8 479.6h3.4v1.8h-3.4zm.8-.8h1.8v3.4h-1.8zM760.8 482.6h3.4v1.8h-3.4zm.8-.8h1.8v3.4h-1.8zM765.8 484.6h3.4v1.8h-3.4zm.8-.8h1.8v3.4h-1.8zM773.8 467.6h3.4v1.8h-3.4zm.8-.8h1.8v3.4h-1.8zM773.8 477.6h3.4v1.8h-3.4zm.8-.8h1.8v3.4h-1.8zM773.8 481.6h3.4v1.8h-3.4zm.8-.8h1.8v3.4h-1.8zM778.8 481.6h3.4v1.8h-3.4zm.8-.8h1.8v3.4h-1.8zM693.8 532.6h3.4v1.8h-3.4zm.8-.8h1.8v3.4h-1.8zM702.8 533.6h3.4v1.8h-3.4zm.8-.8h1.8v3.4h-1.8zM702.8 535.6h3.4v1.8h-3.4zm.8-.8h1.8v3.4h-1.8zM707.8 532.6h3.4v1.8h-3.4zm.8-.8h1.8v3.4h-1.8zM734.8 533.6h3.4v1.8h-3.4zm.8-.8h1.8v3.4h-1.8zM734.8 536.6h3.4v1.8h-3.4zm.8-.8h1.8v3.4h-1.8zM739.8 533.6h3.4v1.8h-3.4zm.8-.8h1.8v3.4h-1.8zM739.8 535.6h3.4v1.8h-3.4zm.8-.8h1.8v3.4h-1.8zM753.8 533.6h3.4v1.8h-3.4zm.8-.8h1.8v3.4h-1.8zM771.8 531.6h3.4v1.8h-3.4zm.8-.8h1.8v3.4h-1.8zM768.8 536.6h3.4v1.8h-3.4zm.8-.8h1.8v3.4h-1.8zM713.8 543.6h3.4v1.8h-3.4zm.8-.8h1.8v3.4h-1.8zM787.8 495.6h3.4v1.8h-3.4zm.8-.8h1.8v3.4h-1.8zM824.8 495.6h3.4v1.8h-3.4zm.8-.8h1.8v3.4h-1.8zM789.8 542.6h3.4v1.8h-3.4zm.8-.8h1.8v3.4h-1.8zM792.8 545.6h3.4v1.8h-3.4zm.8-.8h1.8v3.4h-1.8zM803.8 545.6h3.4v1.8h-3.4zm.8-.8h1.8v3.4h-1.8zM809.8 555.6h3.4v1.8h-3.4zm.8-.8h1.8v3.4h-1.8zM801.8 557.6h3.4v1.8h-3.4zm.8-.8h1.8v3.4h-1.8zM835.8 495.6h3.4v1.8h-3.4zm.8-.8h1.8v3.4h-1.8zM842.8 492.6h3.4v1.8h-3.4zm.8-.8h1.8v3.4h-1.8zM842.8 493.6h3.4v1.8h-3.4zm.8-.8h1.8v3.4h-1.8zM849.8 490.6h3.4v1.8h-3.4zm.8-.8h1.8v3.4h-1.8zM849.8 493.6h3.4v1.8h-3.4zm.8-.8h1.8v3.4h-1.8zM866.8 496.6h3.4v1.8h-3.4zm.8-.8h1.8v3.4h-1.8zM870.8 493.6h3.4v1.8h-3.4zm.8-.8h1.8v3.4h-1.8zM850.8 555.6h3.4v1.8h-3.4zm.8-.8h1.8v3.4h-1.8zM1040.8 480.6h3.4v1.8h-3.4zm.8-.8h1.8v3.4h-1.8zM1043.8 475.6h3.4v1.8h-3.4zm.8-.8h1.8v3.4h-1.8zM1043.8 477.6h3.4v1.8h-3.4zm.8-.8h1.8v3.4h-1.8zM1008.8 560.6h3.4v1.8h-3.4zm.8-.8h1.8v3.4h-1.8zM1087.8 471.6h3.4v1.8h-3.4zm.8-.8h1.8v3.4h-1.8zM1088.8 474.6h3.4v1.8h-3.4zm.8-.8h1.8v3.4h-1.8zM1087.8 479.6h3.4v1.8h-3.4zm.8-.8h1.8v3.4h-1.8zM1084.8 479.6h3.4v1.8h-3.4zm.8-.8h1.8v3.4h-1.8zM1078.8 480.6h3.4v1.8h-3.4zm.8-.8h1.8v3.4h-1.8zM1097.8 476.6h3.4v1.8h-3.4zm.8-.8h1.8v3.4h-1.8zM1097.8 479.6h3.4v1.8h-3.4zm.8-.8h1.8v3.4h-1.8zM1095.8 480.6h3.4v1.8h-3.4zm.8-.8h1.8v3.4h-1.8zM1120.8 480.6h3.4v1.8h-3.4zm.8-.8h1.8v3.4h-1.8zM1129.8 478.6h3.4v1.8h-3.4zm.8-.8h1.8v3.4h-1.8zM1086.8 549.6h3.4v1.8h-3.4zm.8-.8h1.8v3.4h-1.8zM1122.8 546.6h3.4v1.8h-3.4zm.8-.8h1.8v3.4h-1.8zM1122.8 548.6h3.4v1.8h-3.4zm.8-.8h1.8v3.4h-1.8zM1133.8 554.6h3.4v1.8h-3.4zm.8-.8h1.8v3.4h-1.8zM1134.8 554.6h3.4v1.8h-3.4zm.8-.8h1.8v3.4h-1.8zM1146.8 482.6h3.4v1.8h-3.4zm.8-.8h1.8v3.4h-1.8zM1173.8 546.6h3.4v1.8h-3.4zm.8-.8h1.8v3.4h-1.8zM1181.8 560.6h3.4v1.8h-3.4zm.8-.8h1.8v3.4h-1.8zM1176.8 568.6h3.4v1.8h-3.4zm.8-.8h1.8v3.4h-1.8zM1215.8 487.6h3.4v1.8h-3.4zm.8-.8h1.8v3.4h-1.8zM1231.8 563.6h3.4v1.8h-3.4zm.8-.8h1.8v3.4h-1.8zM1231.8 565.6h3.4v1.8h-3.4zm.8-.8h1.8v3.4h-1.8zM1230.8 568.6h3.4v1.8h-3.4zm.8-.8h1.8v3.4h-1.8zM1245.8 485.6h3.4v1.8h-3.4zm.8-.8h1.8v3.4h-1.8zM1285.8 475.6h3.4v1.8h-3.4zm.8-.8h1.8v3.4h-1.8zM1278.8 479.6h3.4v1.8h-3.4zm.8-.8h1.8v3.4h-1.8zM1276.8 483.6h3.4v1.8h-3.4zm.8-.8h1.8v3.4h-1.8zM1285.8 482.6h3.4v1.8h-3.4zm.8-.8h1.8v3.4h-1.8zM1278.8 485.6h3.4v1.8h-3.4zm.8-.8h1.8v3.4h-1.8zM1285.8 485.6h3.4v1.8h-3.4zm.8-.8h1.8v3.4h-1.8zM1288.8 486.6h3.4v1.8h-3.4zm.8-.8h1.8v3.4h-1.8zM1265.8 558.6h3.4v1.8h-3.4zm.8-.8h1.8v3.4h-1.8zM1270.8 532.6h3.4v1.8h-3.4zm.8-.8h1.8v3.4h-1.8zM1270.8 534.6h3.4v1.8h-3.4zm.8-.8h1.8v3.4h-1.8zM1262.8 532.6h3.4v1.8h-3.4zm.8-.8h1.8v3.4h-1.8zM1267.8 531.6h3.4v1.8h-3.4zm.8-.8h1.8v3.4h-1.8zM1274.8 532.6h3.4v1.8h-3.4zm.8-.8h1.8v3.4h-1.8zM321.8 648.6h3.4v1.8h-3.4zm.8-.8h1.8v3.4h-1.8zM584.8 625.6h3.4v1.8h-3.4zm.8-.8h1.8v3.4h-1.8zM714.8 606.6h3.4v1.8h-3.4zm.8-.8h1.8v3.4h-1.8zM785.8 653.6h3.4v1.8h-3.4zm.8-.8h1.8v3.4h-1.8zM798.8 662.6h3.4v1.8h-3.4zm.8-.8h1.8v3.4h-1.8zM1076.8 599.6h3.4v1.8h-3.4zm.8-.8h1.8v3.4h-1.8zM1118.8 576.6h3.4v1.8h-3.4zm.8-.8h1.8v3.4h-1.8zM1146.8 593.6h3.4v1.8h-3.4zm.8-.8h1.8v3.4h-1.8zM1210.8 589.6h3.4v1.8h-3.4zm.8-.8h1.8v3.4h-1.8zM1210.8 595.6h3.4v1.8h-3.4zm.8-.8h1.8v3.4h-1.8zM1231.8 574.6h3.4v1.8h-3.4zm.8-.8h1.8v3.4h-1.8zM773.8 567.6h3.4v1.8h-3.4zm.8-.8h1.8v3.4h-1.8zM826.8 561.6h3.4v1.8h-3.4zm.8-.8h1.8v3.4h-1.8z" fill="#ffa500"/>
<path d="M493.6 624.9l-.7 .7l0 2l.7 .8l.3 0l0-1.3l.2-.2l0-.8l.5-.2l.3 .2l0 .8l.2 .2l0 1.3l.5 0l.8-.8l0-2l-.8-.7zM177.6 615.9l-.7 .7l0 2l.7 .8l2 0l.8-.8l0-2l-.8-.7zM243.6 611.9l-.7 .7l.2 2.3l.5 .5l2 0l.8-.8l0-2l-.8-.7zM385.6 596.9l-.7 .7l0 2l.7 .8l2 0l.8-.8l0-2l-.8-.7zM286.9 597.6l0 2l.7 .8l1.3 0l0-1.8l.2-.2l0-.8l.3-.2l.5 .2l0 .8l.2 .2l0 1.3l.3-.3l0-2l-.8-.7l-2 0zM368.6 591.9l-.7 .7l0 2l.7 .8l2 0l.8-.8l0-2l-.8-.7zM467.6 586.9l-.7 .7l0 2l.7 .8l2 0l.8-.8l0-2l-.8-.7zM455.6 586.9l-.7 .7l0 2l.7 .8l2 0l.8-.8l0-2l-.8-.7zM205.6 586.9l-.7 .7l0 2l.7 .8l2 0l.8-.8l0-2l-.8-.7zM347.6 585.9l-.5 .5l0 2.5l.5 .5l2 0l.8-.8l0-2l-.8-.7zM360.9 584.9l0 .7l.2 .3l0 2.5l1.5 0l.8-.8l0-2l-.8-.7zM433.6 583.9l-.7 .7l0 2l.7 .8l2 0l.8-.8l0-2l-.8-.7zM333.6 576.9l-.7 .7l0 2l.7 .8l2 0l.8-.8l0-2l-.8-.7zM398.6 569.9l-.7 .7l0 2l.7 .8l2 0l.8-.8l0-2l-.8-.7zM375.6 565.9l-.7 .7l0 2l.7 .8l2 0l.8-.8l0-2l-.8-.7zM1198.6 552.9l-.7 .7l0 2l.7 .8l2 0l.8-.8l0-2l-.8-.7zM517.6 552.9l-.7 .7l0 2l.7 .8l2 0l.8-.8l0-2l-.8-.7zM571.6 550.9l-.7 .7l0 2l.7 .8l2 0l.8-.8l0-2l-.8-.7zM489.6 547.9l-.7 .7l0 2l.7 .8l2 0l.8-.8l0-2l-.8-.7zM639.6 546.9l-.7 .7l0 2l.7 .8l2 0l.3-.3l0-2.5l.2-.2l-.5-.5zM1141.6 543.9l-.7 .7l0 2l.7 .8l2 0l.8-.8l0-2l-.8-.7zM1104.6 541.9l-.7 .7l0 2l.7 .8l2 0l.8-.8l0-2l-.8-.7zM896.6 540.9l-.7 .7l0 2l.7 .8l2 0l.8-.8l0-2l-.8-.7zM847.6 540.9l-.7 .7l0 2l.7 .8l2 0l.8-.8l0-2l-.8-.7zM616.6 540.9l-.7 .7l0 2l.7 .8l2 0l.8-.8l0-2l-.8-.7zM514.6 540.9l-.7 .7l0 2l.7 .8l2 0l.8-.8l0-2l-.8-.7zM601.6 538.9l-.7 .7l0 2l.7 .8l2 0l.8-.8l0-2l-.8-.7zM553.6 538.9l-.7 .7l0 2l.7 .8l2 0l.8-.8l0-2l-.8-.7zM522.6 535.9l-.7 .7l0 2l.7 .8l2 0l.8-.8l0-2l-.8-.7zM611.6 533.9l-.7 .7l0 2l.7 .8l2 0l.8-.8l0-2l-.8-.7zM1249.6 528.9l-.7 .7l0 2l.7 .8l2 0l.8-.8l0-2l-.8-.7zM1021.6 525.9l-.7 .7l0 2l.7 .8l2 0l.8-.8l0-2l-.8-.7zM174.1 517.4l0 2.5l.3-.3l0-2zM171.6 516.9l-.7 .7l0 2l.7 .8l.5 0l-.2-.3l0-3.2zM437.6 511.9l-.7 .7l0 2l.7 .8l2 0l.8-.8l0-2l-.8-.7zM375.6 509.9l-2 0l-.7 .7l0 3l-1 1l0 2l.7 .8l2 0l.8-.8l0-2l1-1l0-3zM403.6 508.9l-.5 .5l0 2.5l.5 .5l2 0l.8-.8l0-.7l-1 0l-.3-.3l0-.5l-.2-.2l0-1zM926.6 503.9l-.7 .7l0 2l.7 .8l2 0l.8-.8l0-2l-.8-.7zM905.6 502.9l-.7 .7l0 2l.7 .8l2 0l.8-.8l0-2l-.8-.7zM455.6 500.9l-.7 .7l0 2l.7 .8l2 0l.8-.8l0-2l-.8-.7zM1166.6 494.9l-.7 .7l0 2l.7 .8l2 0l.8-.8l0-2l-.8-.7zM382.6 493.9l-.7 .7l0 2l.7 .8l2 0l.8-.8l0-2l-.8-.7zM1221.6 492.9l-.7 .7l0 2l.7 .8l2 0l.8-.8l0-2l-.8-.7zM340.6 492.9l-.7 .7l0 2l.7 .8l2 0l.8-.8l0-2l-.8-.7zM1197.6 491.9l-.7 .7l0 2l.7 .8l2 0l.8-.8l0-2l-.8-.7zM1217.6 489.9l-.7 .7l0 2l.7 .8l2 0l.8-.8l0-2l-.8-.7zM1110.6 489.9l-.7 .7l0 2l.7 .8l2 0l.8-.8l0-2l-.8-.7zM494.6 483.9l-.7 .7l0 2l.7 .8l2 0l.3-.3l0-3l-.3-.2zM474.6 483.9l-.7 .7l0 6l.7 .8l2 0l.8-.8l0-6l-.8-.7zM1110.6 481.9l-.7 .7l0 2l.7 .8l2 0l.8-.8l0-2l-.8-.7zM557.6 479.9l-.7 .7l0 2l.7 .8l2 0l.8-.8l0-2l-.8-.7zM541.6 471.9l-.7 .7l0 2l.7 .8l2 0l.8-.8l0-2l-.8-.7zM511.6 465.9l-.7 .7l0 2l.7 .8l2 0l.8-.8l0-2l-.8-.7zM589.1 459.9l0 1l-.2 .2l0 .5l-.3 .3l-.7 0l0 .7l.7 .8l2 0l.3-.3l0-3l-.3-.2zM577.6 458.9l-.7 .7l0 2l.7 .8l2 0l.8-.8l0-2l-.8-.7zM161.9 558.6l1 1l0 4l1 1l0 2l1 1l0 6l1 1l0 7l1 1l0 8l1 1l0 1l.7 .8l2 0l.8-.8l0-4l1-1l0-2l-.5-.5l.5-.5l0-2l1-1l0-2l.2-.2l.3 .2l0 2l1.7 1.8l1 0l2 2l2 0l.3 .2l0 1l1.5 1.5l-.5 .5l0 2l1 1l0 2l.7 .8l2 0l.8-.8l0-2l1-1l0-6l2.2-2.2l1.3 1.2l0 5l1 1l0 7l1 1l0 3l1 1l0 5l0-.5l.2-.2l0-1l.3-.3l1.2 0l.3 .3l0 1l.2 .2l0 2.3l1.5 0l.8-.8l0-11l1-1l0-9l2-2l0-4l1-1l0-7l.2-.2l1 0l.3 .2l0 1l1 1l0 6l.7 .8l1 0l.3 .2l0 1l.7 .8l2 0l1-1l.3 .2l0 2l.7 .8l1 0l.3 .2l0 1l1.7 1.8l2 0l.8-.8l0-2l1-1l0-12l.2-.2l.3 .2l0 1l1 1l0 20l.5 .5l-.5 .5l0 7l.7 .8l2 0l.8-.8l0-1l1-1l0-13l1-1l0-2l1-1l0-3l1-1l0-4l.2-.2l.3 .2l0 13l1 1l0 4l1 1l0 6l1 1l0 1l.7 .8l2 0l1.8-1.8l0-10l1-1l0-5l2-2l0-1l.2-.2l1 1l2 0l.3 .2l0 4l1 1l0 4l.7 .8l2 0l.8-.8l0-7l.2-.2l.3 .2l0 8l.5 .5l-.5 .5l0 4l1 1l-1 1l0 3l1.7 1.8l2 0l.8-.8l0-5l1-1l0-13l.2-.2l1 0l.8-.8l0-8l1-1l0-3l.2-.2l.3 .2l0 1l.5 .5l-.5 .5l0 2l1 1l0 21l2 2l0 4l.7 .8l2 0l.8-.8l0-4l1-1l0-10l.5-.5l0-3l-.5-.5l.7-.7l.3-1.3l1-1l0-7l.5-.5l0-3.2l.2-.3l0-1.2l-.2-.3l.5-.5l0-2l.2-.2l2 0l1.3 1.2l0 17l.5 .5l-.5 .5l0 2l.7 .8l2 0l.8-.8l0-2l-.5-.5l.5-.5l0-2l1-1l0-2l2-2l0-4l1-1l0-2l-.5-.5l1.5-1.5l0-1l.2-.2l.3 .2l0 4l.5 .5l-.5 .5l0 2l1 1l0 10l.7 .8l.3 0l0-1.5l.2-.3l0-1l.3-.2l1.2 0l.3 .2l.2 2.3l3.5 3.5l3 0l.8-.8l0-1l1-1l0-12l-.5-.5l.5-.5l0-1l.2-.2l.3 .2l0 7l1 1l0 1l1 1l0 1l1 1l0 11l1 1l0 1l.7 .8l2 0l1.8-1.8l0-12l.2-.2l1 0l.5-.5l.5 .5l5 0l1.8-1.8l0-1l1-1l0-3l.2-.2l.3 .2l0 6l1 1l0 3l.7 .8l4 0l.8-.8l0-4l1-1l0-5l1.2-1.2l.3 .2l0 5l1 1l0 1l1.7 1.8l2 0l.3-.3l0-2l.2-.2l0-.8l.3-.2l1 0l0-2.3l1-1l0-2l-.5-.5l.5-.5l0-4l.2-.2l.3 .2l0 2l1.7 1.8l5 0l.8-.8l0-1l1-1l0-2l.2-.2l1 0l.8-.8l0-4l.2-.2l.3 .2l0 4l.7 .8l1 0l1 1l2 0l.8-.8l0-1l1-1l0-1l1.2-1.2l2 0l1-1l.3 .2l0 5l.5 .5l-.5 .5l0 4l1 1l0 6l.7 .8l2 0l.8-.8l0-2l1-1l0-5l1-1l0-11l.2-.2l.3 .2l0 2l1 1l0 2l.7 .8l1 0l.3 .2l0 10l.7 .8l3 0l.8-.8l0-3l-.5-.5l.5-.5l0-6l1-1l0-3l-.5-.5l.5-.5l0-9l.2-.2l.3 .2l0 2l1 1l0 1l3.7 3.8l2 0l.8-.8l0-6l.7-.7l.8 .7l0 8l.7 .8l2 0l1.3-1.3l0-3.2l.2-.3l0-1.2l.3-.3l.5 .3l0 1.2l.2 .3l0 2l.3-.3l0-4l1-1l0-5l.2-.2l.3 .2l0 3l1 1l0 1l.7 .8l1 0l.3 .2l0 2l1 1l0 1l1.7 1.8l3 0l.8-.8l0-4l1-1l0-1l.7-.7l.8 .7l0 2l1 1l0 2l.7 .8l2 0l.3 .2l0 3l.7 .8l2 0l.8-.8l0-10l1-1l0-4l-.5-.5l.7-.7l.3 .2l0 5l1 1l0 4l.7 .8l4.3 0l0-3l.2-.3l0-1.5l.3-.2l1.2 0l.8-.8l0-7l1.2-1.2l.3 .2l0 2l-1 1l0 3l1 1l0 15l1 1l0 5l1 1l0 6l.7 .8l2 0l.8-.8l0-2l1-1l0-4l1-1l0-8l1-1l0-10l.2-.2l.3 .2l0 1l1 1l0 4l.7 .8l1 0l.3 .2l0 3l.7 .8l1.3 0l0-2.5l.2-.3l0-1l.3-.2l.5 .2l0 1l.2 .3l0 2l1.3-1.3l0-9l1-1l0-1l.2-.2l.3 .2l0 5l1 1l0 4l2 2l0 1l1.7 1.8l2 0l.8-.8l0-1l1-1l0-2l1-1l0-3l1-1l0-2l.2-.2l.3 .2l0 14l1 1l0 3l.5 .5l-.5 .5l0 4l.5 .5l-.5 .5l0 6l.7 .8l2 0l.8-.8l0-6l-.5-.5l.5-.5l0-4l-.5-.5l1.5-1.5l0-5l1-1l0-4l.2-.2l1 0l.3 .2l0 3l1 1l0 1l1 1l0-2.2l.2-.3l0-1.5l.3-.2l.5 .2l0 1.5l.2 .3l0 3l1.5 0l.8-.8l0-3l1-1l0-9l4-4l0-3l1-1l0-7l.2-.2l.3 .2l0 6l.7 .8l1 0l1.3 1.2l0 2l.7 .8l2 0l1.3 1.2l0 5l1 1l0 1l.7 .8l2 0l.8-.8l0-10l1-1l0-10l1-1l0-9l.2-.2l.3 .2l0 1l1 1l0 8l.5 .5l-.5 .5l0 6l1 1l0 7l1 1l0 5l.7 .8l2 0l.8-.8l0-1l1-1l0-5l1-1l0-10l1-1l0-6l-1-1l1-1l0-8l-.5-.5l.7-.7l.3 .2l0 9l1 1l0 2l1 1l0 6l1.7 1.8l2 0l.8-.8l0-3l1-1l0-3l1-1l0-6l.2-.2l.3 .2l0 6l1 1l0 5l.7 .8l2.3 0l0-1.3l.5-1l.5 .3l0 .5l.2 .2l0 .8l.3-.3l0-2l1-1l0-4l1-1l0-9l1-1l0-4l.2-.2l.3 .2l0 5l1 1l0 11l1 1l0 5l1 1l0 4l1 1l0 2l.7 .8l2 0l.8-.8l0-2l-1-1l0-3l1-1l0-4l1-1l0-11l1-1l0-3l-.5-.5l.5-.5l0-7l.2-.2l.3 .2l0 5l1 1l0 3l1 1l0 2l1 1l0 2l.7 .8l2 0l1 1l2 0l.8-.8l0-2l1.2-1.2l3 0l2.3 2.2l0 1l2 2l0 4l1 1l0 1l1 1l0 1l.7 .8l2 0l.8-.8l0-2l1-1l0-5l1-1l0-3l1-1l0-4l1-1l0-4l.2-.2l.3 .2l0 10l1 1l0 6l1 1l0 5l1 1l0 3l.7 .8l2 0l.8-.8l0-4l1-1l0-2l1-1l0-9l1.2-1.2l2 0l2 2l2 0l1.3 1.2l0 3l2 2l0 1l.7 .8l2 0l.8-.8l0-10l-.5-.5l.5-.5l0-4l1-1l0-2l1-1l0-4l1-1l0-3l.2-.2l.3 .2l0 9l1 1l0 7l1 1l0 2l1 1l-1 1l0 3l1 1l0 7l.7 .8l2 0l.8-.8l0-2l1-1l0-6l1-1l0-8l1-1l0-3l-.5-.5l.5-.5l0-2l-.5-.5l.5-.5l0-3l.2-.2l.3 .2l0 4l1 1l0 2l1 1l0 9l.7 .8l2 0l.8-.8l0-5l1-1l0-3l1-1l0-3l1-1l0-1l.2-.2l.3 .2l0 3l2 2l0 4l1 1l0 1l.7 .8l2 0l.8-.8l0-7l.5-.5l0-3.7l.2-.3l0-1.5l1.3-1l0-2l.2-.2l.3 .2l0 1l1 1l0 10l1 1l0 1l.7 .8l2 0l.8-.8l0-6l1-1l0-6l1-1l0-6l1-1l0-1l.2-.2l1 0l2.3 2.2l0 15l1 1l0 2l.5 .5l-.5 .5l0 2l.7 .8l2 0l.8-.8l0-2l-.5-.5l.5-.5l0-7l-.5-.5l.5-.5l0-3l.2-.2l.3 .2l0 4l.7 .8l3 0l.8-.8l0-4l1.2-1.2l1 0l2.3 2.2l0 1l1 1l0 2l1 1l0 3l1.7 1.8l2 0l1.8-1.8l0-3l1-1l0-4l1-1l0-8l1-1l0-5l.2-.2l1.3 1.2l0 7l.5 .5l-.5 .5l0 13l1 1l0 4l.5 .5l-.5 .5l0 2l.7 .8l2 0l.8-.8l0-2l-.5-.5l.5-.5l0-2l1-1l0-8l2-2l0-1l1-1l0-3l.7-.7l.8 .7l0 6l1 1l0 6l1.7 1.8l2 0l1.8-1.8l0-9l.7-.7l.8 .7l0 1l.5 .5l-.5 .5l0 4l1 1l0 4l.7 .8l3 0l.8-.8l0-3l.5-.5l0-2.2l.2-.3l0-.7l.3-.3l0-5l.2-.2l2 0l.3 .2l0 7l1 1l0 1l1 1l0 2l1 1l0 2l.7 .8l2 0l.8-.8l0-8l1-1l0-8l1-1l0-5l.2-.2l.3 .2l0 1l1 1l0 12l1 1l0 3l.7 .8l2 0l.8-.8l0-2l1-1l0-3l1-1l0-3l1-1l0-6l.2-.2l.3 .2l0 5l1 1l0 4l.7 .8l2 0l.3 .2l0 1l.7 .8l2 0l.8-.8l0-2l-1-1l2-2l0-1l1-1l0-1l.2-.2l.3 .2l0 9l2 2l0 5l.7 .8l2 0l.3 .2l0 1l1 1l0 2l.7 .8l2 0l.8-.8l0-2l.2-.2l.3 .2l0 1l.7 .8l2 0l.5-.5l1.8 1.7l0 5l.7 .8l2 0l.8-.8l0-6l1.2-1.2l1 1l2 0l.8-.8l0-5l.7-.7l.5 .5l2 0l.8-.8l0-2l.2-.2l1 0l.3 .2l0 2l.7 .8l2 0l.8-.8l0-5l.2-.2l1.3 1.2l0 5l.7 .8l2 0l.8-.8l0-1l.2-.2l.3 .2l0 4l.7 .8l2 0l.8-.8l0-1l.2-.2l1.3 1.2l0 3l.7 .8l2 0l.5-.5l.5 .5l1 0l.3 .2l0 4l.7 .8l2 0l.8-.8l0-5l.2-.2l2 0l1-1l1 0l.8-.8l0-4l1.2-1.2l.3 .2l0 8l.7 .8l2 0l.8-.8l0-4l.2-.2l.3 .2l0 2l.7 .8l2 0l.5-.5l1.8 1.7l0 3l.7 .8l2 0l.8-.8l0-7l.2-.2l1 1l2 0l.8-.8l0-5l.2-.2l1 0l.3 .2l0 5l.7 .8l2 0l.8-.8l0-4l.2-.2l1.3 1.2l0 5l.7 .8l2 0l.8-.8l0-1l.2-.2l1 1l2 0l.8-.8l0-6l.2-.2l1 0l.3 .2l0 3l.7 .8l1 0l.3 .2l0 2l.5 .5l-.5 .5l0 3l.7 .8l1 0l.3 .2l0 10l.7 .8l2 0l.8-.8l0-3l1.2-1.2l.3 .2l0 4l.7 .8l2 0l.8-.8l0-3l.2-.2l.3 .2l0 2l.7 .8l2 0l.8-.8l0-3l1.2-1.2l.3 .2l0 3l.7 .8l2 0l.8-.8l0-4l.2-.2l.3 .2l0 1l.7 .8l2 0l.8-.8l0-1l.2-.2l1.3 1.2l0 2l.7 .8l2 0l.8-.8l0-3l.2-.2l.3 .2l0 3l.7 .8l2 0l.8-.8l0-2l.2-.2l.3 .2l0 3l.7 .8l2 0l.8-.8l0-1l.2-.2l2 0l1-1l1 0l.8-.8l0-6l1.2-1.2l.3 .2l0 2l.7 .8l2 0l.8-.8l0-4l.2-.2l.3 .2l0 6l.7 .8l2 0l.8-.8l0-3l.2-.2l.3 .2l0 1l1 1l0 3l.7 .8l2 0l.8-.8l0-5l.2-.2l1 0l.3 .2l0 1l.7 .8l2 0l.8-.8l0-2l.2-.2l.3 .2l0 5l.7 .8l2 0l.8-.8l0-2l.2-.2l1.3 1.2l0 5l.7 .8l2 0l.8-.8l0-3l.2-.2l.3 .2l0 1l1 1l0 4l.7 .8l2 0l.8-.8l0-7l.2-.2l.3 .2l0 4l.5 .5l-.5 .5l0 2l.7 .8l2 0l.8-.8l0-2l-.5-.5l.5-.5l0-6l1.2-1.2l.3 .2l0 3l.7 .8l2 0l.8-.8l0-1l.2-.2l.3 .2l0 6l.7 .8l2 0l.8-.8l0-6l1.2-1.2l.3 .2l0 4l.7 .8l2 0l.3 .2l0 8l1 1l0 3l.7 .8l2 0l.8-.8l0-3l.2-.2l1 0l1-1l2 0l1-1l.3 .2l0 1l1 1l0 5l.7 .8l2 0l.8-.8l0-8l1-1l0-1l.2-.2l.3 .2l0 3l.7 .8l2 0l.8-.8l0-8l1-1l0-4l.2-.2l.3 .2l0 3l.7 .8l2 0l.8-.8l0-2l.2-.2l1.3 1.2l0 4l.7 .8l2 0l.5-.5l.8 .7l0 3l-1 1l0 2l.7 .8l2 0l1.8-1.8l0-3l.2-.2l1.3 1.2l0 6l.7 .8l2 0l.8-.8l0-3l.2-.2l.3 .2l0 6l.7 .8l2 0l.8-.8l0-1l.2-.2l.3 .2l0 2l.7 .8l2 0l.8-.8l0-4l.2-.2l.3 .2l0 5l.7 .8l2 0l.8-.8l0-5l.2-.2l.3 .2l0 3l.7 .8l2 0l.8-.8l0-5l1.2-1.2l.3 .2l0 3l.7 .8l2 0l.8-.8l0-4l.2-.2l.3 .2l0 3l.7 .8l2 0l.8-.8l0-7l1.2-1.2l2 0l.8-.8l0-4l.2-.2l1.3 1.2l0 4l.7 .8l2 0l.8-.8l0-4l.2-.2l1 0l.3 .2l0 4l.7 .8l2 0l.8-.8l0-3l.2-.2l.3 .2l0 5l.7 .8l1 0l1 1l2 0l1 1l2 0l.8-.8l0-4l.2-.2l.3 .2l0 5l.7 .8l2 0l.8-.8l0-5l.2-.2l.3 .2l0 4l.7 .8l2 0l.8-.8l0-4l1-1l0-2l.7-.7l.5 .5l2 0l.8-.8l0-6l.2-.2l.3 .2l0 2l.7 .8l2 0l.8-.8l0-5l.2-.2l1 0l.3 .2l0 3l.7 .8l2 0l.8-.8l0-3l.2-.2l1.3 1.2l0 3l.7 .8l2 0l1-1l.3 .2l0 5l.7 .8l2 0l.8-.8l0-2l.2-.2l1 0l.3 .2l0 5l.7 .8l2 0l.8-.8l0-5l.2-.2l1 0l.3 .2l0 3l.7 .8l2 0l.8-.8l0-3l.2-.2l.3 .2l0 6l.7 .8l2 0l.8-.8l0-7l1.2-1.2l1 1l2 0l.8-.8l0-3l.2-.2l.3 .2l0 3l1 1l0 2l.7 .8l2 0l.8-.8l0-2l-1-1l0-5l1.7-1.7l.5 .5l2 0l.8-.8l0-4l.2-.2l.3 .2l0 1l.7 .8l2 0l.8-.8l0-3l.2-.2l1 0l.3 .2l0 4l.7 .8l2 0l.8-.8l0-4l.2-.2l3 0l.8-.8l0-4l.2-.2l.3 .2l0 6l.7 .8l2 0l.8-.8l0-4l.2-.2l1 0l.3 .2l0 3l.7 .8l2 0l.8-.8l0-3l.2-.2l.3 .2l0 4l.7 .8l2 0l.8-.8l0-4l.2-.2l.3 .2l0 6l.7 .8l1 0l.3 .2l0 8l.7 .8l2 0l.3 .2l0 3l.7 .8l2 0l.8-.8l0-6l.2-.2l.3 .2l0 5l.7 .8l2 0l1-1l1 0l.3 .2l0 2l.7 .8l2 0l.8-.8l0-2l.2-.2l.3 .2l0 1l.7 .8l3 0l.8-.8l0-8l.2-.2l1 1l2 0l.8-.8l0-2l1.2-1.2l.3 .2l0 1l.7 .8l2 0l1-1l.3 .2l0 4l.5 .5l-.5 .5l0 2l.7 .8l2 0l.8-.8l0-2l-.5-.5l.5-.5l0-6l1.2-1.2l.3 .2l0 2l.7 .8l2 0l.8-.8l0-2l.2-.2l1 0l.3 .2l0 4l.7 .8l1 0l1.3 1.2l0 3l1 1l0 6l.7 .8l2 0l.8-.8l0-6l.2-.2l1 0l.3 .2l0 3l.7 .8l2 0l.8-.8l0-4l.2-.2l.3 .2l0 4l.7 .8l2 0l1-1l.3 .2l0 1l1 1l0 2l.7 .8l2 0l.8-.8l0-3l.2-.2l.3 .2l0 3l.7 .8l2 0l.8-.8l0-2l.2-.2l.3 .2l0 5l.7 .8l2 0l.8-.8l0-3l.2-.2l.3 .2l0 1l.7 .8l2 0l.5-.5l.8 .7l-.3 .3l-2 0l-.7 .7l0 2l.7 .8l2 0l.8-.8l0-2l.2-.2l.3 .2l0 2l.7 .8l2 0l.8-.8l0-2l1-1l0-1l.2-.2l2 0l.8-.8l0-6l2.2-2.2l1 0l1.8 1.7l-.5 .5l0 2l1 1l0 5l.7 .8l2 0l.8-.8l0-6l.7-.7l.5 .5l2 0l.8-.8l0-5l.2-.2l1 0l.8-.8l0-1l.2-.2l2 0l.8-.8l0-4l.2-.2l1 0l.3 .2l0 6l.7 .8l2 0l.8-.8l0-1l.2-.2l.3 .2l0 4l1 1l0 6l.7 .8l2 0l.8-.8l0-4l.2-.2l.3 .2l0 4l1 1l0 3l.7 .8l2 0l.8-.8l0-4l.2-.2l.3 .2l0 4l.7 .8l2 0l.8-.8l0-2l.2-.2l.3 .2l0 4l.7 .8l2 0l.8-.8l0-3l.2-.2l.3 .2l0 2l.7 .8l2 0l.8-.8l0-6l.2-.2l.3 .2l0 1l.7 .8l2 0l.8-.8l0-3l1.2-1.2l1 1l2 0l.8-.8l0-3l.2-.2l1.3 1.2l0 1l-1 1l0 11l.7 .8l2 0l.8-.8l0-2l.2-.2l3 0l.8-.8l0-6l.2-.2l.3 .2l0 6l.7 .8l2 0l.8-.8l0-4l.2-.2l1 0l.3 .2l0 7l.7 .8l2 0l1-1l.3 .2l0 4l.7 .8l2 0l.8-.8l0-5l.2-.2l.3 .2l0 2l.7 .8l2 0l.8-.8l0-1l.2-.2l1 0l.3 .2l0 4l.7 .8l2 0l.8-.8l0-4l.2-.2l.3 .2l0 3l.7 .8l2 0l.8-.8l0-5l.2-.2l.3 .2l0 5l1 1l0 7l.7 .8l2 0l.8-.8l0-5l1-1l0-1l.2-.2l.3 .2l0 3l.7 .8l1 0l.3 .2l0 6l.7 .8l2 0l.8-.8l0-1l.2-.2l1 0l.5-.5l.8 .7l0 1l1 1l0 2l.7 .8l2 0l.8-.8l0-6l1-1l0-4l.2-.2l.3 .2l0 6l.7 .8l2 0l.8-.8l0-12l1-1l0-19l-.5-.5l.5-.5l0-1l.2-.2l2 0l.8-.8l0-3l.2-.2l.3 .2l0 1l1 1l0 4l.7 .8l1 0l.3 .2l0 1l.7 .8l2 0l.8-.8l0-1l.2-.2l1 0l.8-.8l0-3l.2-.2l.3 .2l0 7l.7 .8l2 0l.8-.8l0-2l.2-.2l.3 .2l0 5l.7 .8l2 0l.8-.8l0-2l.2-.2l1 0l.3 .2l0 2l.7 .8l2 0l.8-.8l0-2l.2-.2l1 0l.3 .2l0 4l.7 .8l2 0l.8-.8l0-4l.2-.2l.3 .2l0 3l.7 .8l2 0l.8-.8l0-3l.2-.2l1 0l.3 .2l0 1l.7 .8l2 0l.8-.8l0-3l2-2l0-1l.2-.2l1 0l.8-.8l0-5l.2-.2l1 1l2 0l.8-.8l0-1l.2-.2l.3 .2l0 6l.7 .8l2 0l1.3 1.2l0 5l.7 .8l2 0l.8-.8l0-3l1.7-1.7l.5 .5l2 0l.8-.8l0-3l1-1l0-9l-.5-.5l.5-.5l0-16l-1-1l.2-.2l1 0l.8-.8l0-2l-.8-.7l-4 0l-.7 .7l0 8l-.3 .3l-1.2-1.3l0-6l-.8-.7l-2 0l-1 1l-.2-.3l0-1l.2-.2l2 0l.8-.8l0-2l-.8-.7l-2 0l-.5 .5l-.5-.5l-2 0l-.7 .7l0 4l-.3 .3l-1 0l-.2-.3l0-2l-.8-.7l-2 0l-.7 .7l0 2l-1.3 1.3l-.2-.3l0-3l-.8-.7l-2 0l-.7 .7l0 1l-.3 .3l-1-1l-2 0l-.7 .7l0 9l-.3 .3l-.2-.3l0-3l-1-1l0-4l-.8-.7l-2 0l-.7 .7l0 3l-.8 .8l-.5-.5l-2 0l-.7 .7l0 4l-.3 .3l-1 0l-.2-.3l0-2l1-1l0-2l-.8-.7l-3 0l-.7 .7l0 4l-.3 .3l-.2-.3l0-4l-.8-.7l-2 0l-.2-.3l0-1l-.8-.7l-1 0l-1-1l-2 0l-.7 .7l0 4l-.3 .3l-1.2-1.3l0-6l-.8-.7l-2 0l-.7 .7l0 2l-.3 .3l-.2-.3l0-4l-.8-.7l-2 0l-.7 .7l0 4l-1 1l0 1l-1 1l0 10l.5 .5l-.5 .5l0 2l-2.3 2.3l-.2-.3l0-9l-1-1l0-5l-.8-.7l-2 0l-.7 .7l0 5l-1 1l0 6l.5 .5l-.5 .5l0 2l-.3 .3l-.2-.3l0-3l-1-1l0-1l-.8-.7l-2 0l-.7 .7l0 1l-1 1l0 8l-1.3 1.3l-.2-.3l0-1l-1-1l0-6l-1.8-1.7l-2 0l-.2-.3l0-5l-.8-.7l-1 0l-.2-.3l0-2l-.8-.7l-2 0l-.7 .7l0 3l-1 1l0 1l-.3 .3l-.2-.3l0-1l-.8-.7l-2 0l-.7 .7l0 1l-.3 .3l-2 0l-.7 .7l0 2l.7 .8l2 0l.8-.8l0-1l.2-.2l2 0l.3 .2l0 6l.5 .5l-.8 .8l-1.2-1.3l0-2l-.8-.7l-2 0l-.7 .7l0 2l-.8 .8l-.7-.8l0-8l-.8-.7l-4 0l-1.7 1.7l0 2l-.3 .3l-.2-.3l0-3l-.8-.7l-1 0l-.2-.3l0-3l-.8-.7l-2 0l-.7 .7l0 7l-.3 .3l-.2-.3l0-6l-1-1l0-7l-.8-.7l-2 0l-.7 .7l0 3l-.3 .3l-.2-.3l0-4l-.8-.7l-2 0l-.7 .7l0 1l-.3 .3l-1 0l-.7 .7l0 3l-.3 .3l-1 0l-.5 .5l-.5-.5l-2 0l-.7 .7l0 4l-.3 .3l-1.2-1.3l0-4l-.8-.7l-2 0l-.7 .7l0 2l-1 1l0 4l-1 1l0 1l-.3 .3l-.2-.3l0-4l-.8-.7l-2 0l-.7 .7l0 2l-.3 .3l-2 0l-.7 .7l0 3l-.3 .3l-1 0l-2.2-2.3l0-2l-.8-.7l-2 0l-.7 .7l0 1l-.3 .3l-1.2-1.3l0-9l-.8-.7l-2 0l-.7 .7l0 1l-.3 .3l-.2-.3l0-1l-1-1l0-2l-.8-.7l-2 0l-1-1l-2 0l-.7 .7l0 3l-.3 .3l-.2-.3l0-4l-.8-.7l-2 0l-.7 .7l0 5l-.3 .3l-.2-.3l0-1l-.8-.7l-2 0l-.2-.3l1-1l0-2l-.8-.7l-2 0l-.2-.3l.2-.2l2 0l.8-.8l0-2l-.8-.7l-2 0l-.7 .7l0 1l-.3 .3l-2 0l-1 1l-.2-.3l0-1l-.8-.7l-2 0l-.7 .7l0 8l-1 1l0 6l-.3 .3l-.2-.3l0-11l1-1l0-2l-.8-.7l-2 0l-1.7 1.7l0 5l-.3 .3l-2 0l-.7 .7l0 1l-.3 .3l-.2-.3l0-3l-1-1l0-9l-.8-.7l-2 0l-.7 .7l0 8l-1 1l0 3l-1 1l0 3l-.3 .3l-1 0l-.7 .7l0 3l-.3 .3l-1 0l-.2-.3l0-1l-.8-.7l-2 0l-.2-.3l0-1l-2-2l0-6l-.8-.7l-2 0l-.2-.3l0-7l-.8-.7l-2 0l-.7 .7l0 4l-1.3 1.3l-.2-.3l0-1l-.8-.7l-2 0l-.5 .5l-.5-.5l-1 0l-.2-.3l0-4l-.8-.7l-2 0l-.7 .7l0 6l-.3 .3l-.2-.3l0-1l-1-1l0-5l-.8-.7l-2 0l-.7 .7l0 8l-.3 .3l-.2-.3l0-6l-.8-.7l-2 0l-.7 .7l0 3l-1 1l0 2l-.3 .3l-2 0l-.7 .7l0 6l-.3 .3l-.2-.3l0-5l-.8-.7l-2 0l-.2-.3l0-1l-.8-.7l-2 0l-1 1l-1 0l-.7 .7l0 5l-3 3l0 1l-.3 .3l-1 0l-1.2-1.3l0-6l-.8-.7l-2 0l-.7 .7l0 1l-.3 .3l-.2-.3l0-3l-.8-.7l-2 0l-.7 .7l0 3l-.3 .3l-1 0l-1 1l-2 0l-.7 .7l0 5l-.3 .3l-.2-.3l0-4l-.5-.5l.5-.5l0-11l-.8-.7l-2 0l-.7 .7l0 4l-.3 .3l-1 0l-.2-.3l0-4l-.8-.7l-2 0l-.7 .7l0 4l-.3 .3l-1 0l-1-1l-2 0l-.7 .7l0 1l-.3 .3l-1 0l-.2-.3l0-3l-.8-.7l-2 0l-.7 .7l0 4l-.3 .3l-.2-.3l0-1l-.8-.7l-2 0l-.7 .7l0 8l-.3 .3l-.2-.3l0-4l-.8-.7l-2 0l-.7 .7l0 3l-.3 .3l-1.2-1.3l0-9l-.8-.7l-2 0l-.7 .7l0 6l-1 1l0 4l-.3 .3l-.2-.3l0-5l-.5-.5l.5-.5l0-2l-.8-.7l-2 0l-.7 .7l0 2l.5 .5l-.5 .5l0 6l-.3 .3l-1 0l-1 1l-.2-.3l0-2l-.8-.7l-2 0l-.7 .7l0 2l1 1l0 3l-.3 .3l-.2-.3l0-1l-.8-.7l-2 0l-.7 .7l0 4l-.3 .3l-.2-.3l0-1l-1-1l0-3l-.8-.7l-2 0l-1 1l-.2-.3l0-4l-.8-.7l-2 0l-.2-.3l0-2l-.8-.7l-2 0l-.7 .7l0 2l-.3 .3l-1 0l-.7 .7l0 3l-.3 .3l-1 0l-.2-.3l0-4l-.8-.7l-2 0l-.7 .7l0 4l-.3 .3l-.2-.3l0-1l-.8-.7l-2 0l-.7 .7l0 4l-.3 .3l-1.2-1.3l0-4l-.8-.7l-2 0l-.7 .7l0 3l-1.3 1.3l-.2-.3l0-3l-.8-.7l-2 0l-.7 .7l0 2l-.3 .3l-.2-.3l0-3l-.8-.7l-2 0l-.7 .7l0 11l-1 1l0 2l.5 .5l-.5 .5l0 1l-.3 .3l-.2-.3l0-3l-.8-.7l-2 0l-1-1l-1 0l-.2-.3l0-3l-.8-.7l-1 0l-.2-.3l0-2l-1.8-1.7l-1 0l-.2-.3l0-5l-.8-.7l-2 0l-.7 .7l0 5l-1.3 1.3l-.2-.3l0-3l-.8-.7l-2 0l-.7 .7l0 1l-.3 .3l-.2-.3l0-4l-.8-.7l-2 0l-.7 .7l0 5l-1 1l0 1l-.3 .3l-.2-.3l0-3l-.8-.7l-2 0l-.7 .7l0 9l-.3 .3l-.2-.3l0-6l-.8-.7l-2 0l-.7 .7l0 5l-1 1l0 1l-.3 .3l-1 0l-1 1l-1 0l-.7 .7l0 2l-.3 .3l-1 0l-.2-.3l0-2l-.8-.7l-2 0l-.7 .7l0 2l-.3 .3l-.2-.3l0-6l-.8-.7l-2 0l-.7 .7l0 7l-.3 .3l-1-1l-1 0l-1-1l-1 0l-.2-.3l0-5l.2-.2l1 0l.8-.8l0-2l-.8-.7l-2 0l-.7 .7l0 2l-.3 .3l-1 0l-.7 .7l0 4l-.3 .3l-1 0l-.2-.3l0-3l-.8-.7l-2 0l-.7 .7l0 4l-.3 .3l-.2-.3l0-5l-.8-.7l-1 0l-.2-.3l0-1l-1-1l0-6l-1-1l0-2l-.8-.7l-2 0l-.7 .7l0 5l-.8 .8l-.7-.8l0-6l-.8-.7l-2 0l-.7 .7l0 4l-.3 .3l-1 0l-.7 .7l0 3l-2 2l0 1l-.3 .3l-.2-.3l0-2l-.8-.7l-2 0l-.7 .7l0 5l-.3 .3l-1.2-1.3l0-2l-.8-.7l-2 0l-.7 .7l0 2l-.3 .3l-.2-.3l0-3l-.8-.7l-2 0l-.7 .7l0 4l-.3 .3l-.2-.3l0-1l-1-1l1-1l0-9l-.8-.7l-2 0l-.7 .7l0 4l-.3 .3l-1 0l-.2-.3l0-3l-.8-.7l-2 0l-.7 .7l0 2l-.3 .3l-2 0l-.7 .7l0 3l-1.3 1.3l-.2-.3l0-1l-.8-.7l-2 0l-.7 .7l0 3l-1 1l0 4l-.3 .3l-.2-.3l0-5l-.8-.7l-2 0l-.5 .5l-.7-.8l0-1l1-1l0-2l-.8-.7l-2 0l-1.7 1.7l0 4l-.3 .3l-.2-.3l0-3l-1-1l0-3l-.8-.7l-2 0l-.7 .7l0 1l-.3 .3l-1 0l-.2-.3l0-2l-.8-.7l-2 0l-.7 .7l0 3l-.3 .3l-.2-.3l0-5l-.8-.7l-2 0l-.7 .7l0 7l-.3 .3l-.2-.3l0-4l-.8-.7l-2 0l-.7 .7l0 5l-.3 .3l-.2-.3l0-4l-.8-.7l-2 0l-.7 .7l0 3l-.3 .3l-1 0l-.2-.3l0-1l-.8-.7l-2 0l-.7 .7l0 5l-.3 .3l-.2-.3l0-3l-.8-.7l-2 0l-.5 .5l-.7-.8l0-6l-.8-.7l-2 0l-.7 .7l0 8l-1 1l0 1l-.3 .3l-1 0l-.2-.3l0-3l-1-1l0-2l-.8-.7l-2 0l-.7 .7l0 2l-.3 .3l-.2-.3l0-2l-.8-.7l-3 0l-.7 .7l0 1l-1 1l0 3l.5 .5l-.5 .5l0 1l-1 1l0 3l-.3 .3l-.2-.3l0-8l-1-1l0-5l-.8-.7l-2 0l-.7 .7l0 8l-1 1l0 1l-.3 .3l-1 0l-.2-.3l0-1l-1-1l0-4l-1-1l0-3l-.8-.7l-2 0l-.7 .7l0 3l-2.3 2.3l-1-1l-1 0l-.2-.3l0-13l-.8-.7l-2 0l-.7 .7l0 1l-1.3 1.3l-.2-.3l0-2l-1-1l0-2l-.8-.7l-2 0l-.7 .7l0 5l1 1l-1 1l0 1l-1 1l0 1l-.3 .3l-.2-.3l0-2l-.8-.7l-2 0l-.2-.3l0-1l-1-1l0-5l-.8-.7l-2 0l-.7 .7l0 2l-.3 .3l-.2-.3l0-5l-.8-.7l-2 0l-.7 .7l0 5l-1.3 1.3l-.2-.3l0-3l-.8-.7l-2 0l-.7 .7l0 5l-.3 .3l-.2-.3l0-5l-.8-.7l-2 0l-.7 .7l0 4l-.3 .3l-1 0l-.2-.3l0-1l-.8-.7l-2 0l-.7 .7l0 6l-.3 .3l-.2-.3l0-3l-1-1l0-6l-.8-.7l-2 0l-.7 .7l0 12l-.3 .3l-1-1l-2 0l-.7 .7l0 2l-.3 .3l-1.2-1.3l0-5l-.8-.7l-2 0l-.7 .7l0 2l-.3 .3l-.2-.3l0-3l-1-1l0-5l-.8-.7l-2 0l-.7 .7l0 4l-.3 .3l-.2-.3l0-5l-.8-.7l-2 0l-.7 .7l0 5l-.3 .3l-.2-.3l0-7l-.8-.7l-2 0l-.7 .7l0 5l-.3 .3l-1 0l-.2-.3l0-2l-.8-.7l-2 0l-.7 .7l0 5l-.3 .3l-1-1l-2 0l-.7 .7l0 1l-.3 .3l-.2-.3l0-1l-.8-.7l-2 0l-1.7 1.7l0 2l.5 .5l-.5 .5l0 3l-1.3 1.3l-1 0l-.5 .5l-.7-.8l0-3l-1-1l0-7l-.8-.7l-2 0l-.7 .7l0 2l-.3 .3l-.2-.3l0-2l-.8-.7l-2 0l-.7 .7l0 4l-.3 .3l-.2-.3l0-2l-.8-.7l-2 0l-.2-.3l0-7l-.5-.5l.5-.5l0-4l-.5-.5l.5-.5l0-13l-1-1l0-2l-.8-.7l-2 0l-.5 .5l0 .5l-.2 .2l0 11.5l-1 1l0 2l1 1l0 1l-1 1l0 17l-.3 .3l-.2-.3l0-3l-.5-.5l.5-.5l0-6l-.5-.5l.5-.5l0-4l-1-1l0-5l-1-1l0-6l-1-1l0-2l-.8-.7l-2 0l-1.7 1.7l0 29l-.3 .3l-.2-.3l0-5l-.5-.5l.5-.5l0-4l-1-1l0-2l-1-1l0-1l-1-1l1-1l0-5l-1-1l0-13l-1-1l0-2l-.8-.7l-2 0l-.5 .5l0 2l-.2 .2l0 1.3l-.3 .2l-.7 0l0 6.5l-1 1l0 10l.5 .5l-.5 .5l0 6l-1 1l0 5l-.3 .3l-.2-.3l0-3l-.5-.5l.5-.5l0-2l-1-1l1-1l0-3l-1-1l0-7l-1-1l0-8l-.5-.5l.5-.5l0-4l-1-1l0-4l-.8-.7l-2 0l-.7 .7l0 5l-1 1l0 12l-1 1l0 2l.5 .5l-.5 .5l0 2l.5 .5l-.5 .5l0 3l.5 .5l-.5 .5l0 16l-.3 .3l-.2-.3l0-2l-1-1l1-1l0-5l-1-1l0-9l-.5-.5l.5-.5l0-4l-1-1l0-5l-.5-.5l.5-.5l0-6l-.8-.7l-2 0l-.7 .7l0 4l-1 1l0 2l.5 .5l-.5 .5l0 3l1 1l-1 1l0 6l.5 .5l-.5 .5l0 6l-1 1l0 5l-.3 .3l-.2-.3l0-10l-1-1l0-1l-1-1l0-8l-1-1l0-7l-.8-.7l-2 0l-1.7 1.7l0 4l1 1l0 1l-1 1l0 2l-1 1l0 10l-1 1l0 10l1 1l-1 1l0 3l-.3 .3l-.2-.3l0-6l-.5-.5l.5-.5l0-5l-1-1l0-20l-1.5-1.5l.5-.5l0-10l-.5-.5l.5-.5l0-2l-1-1l0-1l1-1l0-5l-1.8-1.7l-2 0l-.7 .7l0 6l-1 1l0 7l-1 1l0 8l.5 .5l-.5 .5l0 18l-1 1l0 3l-.3 .3l-.2-.3l0-12l-.5-.5l.5-.5l0-4l-1-1l0-2l-1-1l0-1l-.8-.7l-2 0l-.7 .7l0 2l-1 1l0 1l-1 1l0 4l-1 1l0 10l-1.3 1.3l-.2-.3l0-12l-1-1l0-4l-1-1l0-1l-1.5-1.5l.5-.5l0-2l-.5-.5l.5-.5l0-2l-1-1l0-2l-.8-.7l-2 0l-.7 .7l0 4l1.5 1.5l-.5 .5l0 2l.5 .5l-.5 .5l0 21l-.3 .3l-.2-.3l0-2l-1-1l0-14l-.5-.5l.5-.5l0-2l-.5-.5l.5-.5l0-7l-1-1l0-3l-1-1l1-1l0-5l-.8-.7l-2 0l-.7 .7l0 2l-.3 .3l-1 0l-1.7 1.7l0 7l-1 1l0 22l-1 1l0 3l1 1l-1 1l0 4l-.3 .3l-.2-.3l0-4l-.5-.5l.5-.5l0-7l-1-1l0-8l-1-1l0-8l-.8-.7l-3 0l-.7 .7l0 7l.5 .5l-.5 .5l0 3l.5 .5l-.5 .5l0 5l.5 .5l-1.5 1.5l0 2l1 1l-1 1l0 6l-.3 .3l-.2-.3l0-2l-1-1l0-10l-.5-.5l.5-.5l0-8l-1.8-1.7l-3 0l-.7 .7l0 1l-1 1l0 3l-1 1l0 10l.5 .5l-.5 .5l0 3l-1 1l0 3l-.3 .3l-.7-.8l.5-.5l0-2l-.5-.5l.5-.5l0-8l-1-1l0-8l-1.8-1.7l-2 0l-.7 .7l0 3l-1 1l0 9l-1 1l0 14l-1 1l0 3l-.3 .3l-1 0l-.2-.3l0-2l1-1l0-3l-1-1l0-11l-.5-.5l.5-.5l0-5l-1-1l0-6l-1-1l0-1l-.8-.7l-2 0l-.7 .7l0 5l-1 1l0 7l.5 .5l-.5 .5l0 7l-1 1l0 2l1 1l0 1l-1 1l0 3l-.3 .3l-1 0l-.2-.3l0-5l-1-1l1-1l0-3l-1.8-1.7l-3 0l-2.7 2.7l0 4l-1.3 1.3l-.2-.3l0-9l-.8-.7l-2 0l-.7 .7l0 2l-1 1l0 1l-1 1l0 12l-1 1l0 7l-.3 .3l-1 0l-.2-.3l0-9l-.5-.5l.5-.5l0-2l-.5-.5l.5-.5l0-2l-1-1l0-3l1-1l0-2l-1-1l0-8l-1-1l0-2l-2.8-2.7l-2 0l-.7 .7l0 12l-1 1l0 2l1 1l-1 1l0 3l.5 .5l-.5 .5l0 8l-.8 .8l-.7-.8l0-4l-1-1l0-11l-.8-.7l-3 0l-1 1l-1 0l-.7 .7l0 4l-1 1l0 4l-.3 .3l-1 0l-.2-.3l0-1l-.8-.7l-1 0l-.2-.3l0-2l-.8-.7l-3 0l-1 1l-1.2-1.3l0-5l-1-1l0-5l-1-1l0-3l-.8-.7l-2 0l-2.7 2.7l0 7l.5 .5l-.5 .5l0 13l-1 1l0 3l.5 .5l-.5 .5l0 9l-.3 .3l-.2-.3l0-12l-1-1l0-8l-1-1l0-8l-.5-.5l.5-.5l0-2l-1-1l1-1l0-2l-1-1l0-7l-.8-.7l-2 0l-1.7 1.7l0 3l-1 1l0 4l.5 .5l-.5 .5l0 15l.5 .5l-.5 .5l0 4l-1 1l0 1l-.3 .3l-.2-.3l0-13l-.8-.7l-2 0l-1 1l-2 0l-1.7 1.7l0 13l-.8 .8l-.7-.8l0-2l-.5-.5l.5-.5l0-2l-1-1l1-1l0-4l-1-1l0-8l1-1l0-3l-.8-.7l-2 0l-.7 .7l0 3l-1 1l0 8l-1 1l0 3l-1 1l0 8l-1 1l0 2l.5 .5l-.5 .5l0 11l-.3 .3l-1.2-1.3l0-11l-1-1l0-10l-1-1l0-1l-1-1l0-3l-.8-.7l-2 0l-.7 .7l0 4l-1 1l0 10l-1 1l0 7l1 1l-1 1l0 4l-.3 .3l-.2-.3l0-5l-.5-.5l.5-.5l0-3l-1-1l0-9l-1-1l0-1l-.8-.7l-2 0l-.7 .7l0 3l-.3 .3l-1 0l-.7 .7l0 3l-1 1l0 1l-1 1l0 1l-2.3 2.3l-1 0l-1.2-1.3l0-1l-1-1l0-1l-.8-.7l-2 0l-.7 .7l0 2l1 1l0 9l-1 1l0 3l.5 .5l-.5 .5l0 2l-.3 .3l-.2-.3l0-16l-.8-.7l-2 0l-.7 .7l0 7l-.3 .3l-2 0l-.7 .7l0 4l.5 .5l-.5 .5l0 2l1 1l-1 1l0 3l.5 .5l-.5 .5l0 7l-1 1l0 1l-.3 .3l-.2-.3l0-3l-1-1l0-8l-1-1l0-3l-1-1l0-3l-.8-.7l-1 0l-.2-.3l0-2l-.8-.7l-2 0l-.7 .7l0 2l.5 .5l-.5 .5l0 6l-.3 .3l-.2-.3l0-3l-2-2l0-4l-1-1l0-5l-1-1l0-4l-1-1l0-1l-.8-.7l-2 0l-.7 .7l0 4l1 1l-1 1l0 13l-1.3 1.3l-1.2-1.3l0-10l-1.8-1.7l-2 0l-1.7 1.7l0 1l-1 1l0 16l-1 1l0 4l1 1l-1 1l0 2l-.3 .3l-.2-.3l0-8l-1-1l0-13l-1-1l0-10l-1-1l0-10l-.8-.7l-2 0l-.7 .7l0 7l-1 1l0 7l-1 1l0 7l-.8 .8l-.7-.8l0-5l-.8-.7l-5 0l-.7 .7l0 9l-.8 .8l-.7-.8l0-4l-1-1l0-2l-.3-.2l0 .5l-.2 .2l0 .8l-.5 .2l-.3-.2l0-.8l-.2-.2l0-1.8l-2.5-2.5l0-9l-.8-.7l-2 0l-.7 .7l0 1l-1 1l0 2l1 1l-1 1l0 2l1 1l-1 1l0 2l1 1l-1 1l0 7l-.3 .3l-1.2-1.3l1-1l0-3l-1-1l0-17l-1-1l0-1l-1.8-1.7l-2 0l-.7 .7l0 1l-2 2l0 5l-1 1l0 1l-1 1l0 2l.5 .5l-.5 .5l0 4l.5 .5l-.5 .5l0 5l-1 1l0 2l-.3 .3l-.2-.3l0-6l-.8-.7l-3 0l-.7 .7l0 5l-.3 .3l-1.2-1.3l0-1l-3-3l0-5l-.8-.7l-3 0l-.7 .7l0 3l1 1l0 4l1 1l-1 1l0 18l-.3 .3l-1.2-1.3l1-1l0-2l-1-1l0-4l-.5-.5l.5-.5l0-22l-.8-.7l-2 0l-.7 .7l0 5l-.3 .3l-1 0l-.7 .7l0 4l-1 1l0 1l-2 2l0 5l.5 .5l-.5 .5l0 15l-1.3 1.3l-.2-.3l0-4l-1-1l0-7l-.5-.5l.5-.5l0-5l-1-1l0-5l-1-1l0-2l-1-1l0-7l-.8-.7l-2 0l-.7 .7l0 4l-1 1l0 5l-1 1l0 4l-.8 .8l-.5-.5l-2 0l-1 1l-1 0l-.2-.3l0-1l-1-1l0-3l-.8-.7l-2 0l-1 1l-1 0l-.7 .7l0 2l-.3 .3l-1 0l-.5 .5l0 2.5l-.2 .2l0 1.5l-.3 .3l-.7 0l0 3.7l-2 2l0 2l-1 1l0 5l-.3 .3l-.2-.3l0-8l-1-1l0-3l-1-1l0-9l-.8-.7l-2 0l-.7 .7l0 8l-1 1l0 1l-.8 .8l0 .5l-.2 .2l0 2.5l-1 1l0 11l-.3 .3l-.2-.3l0-1l-2-2l0-1l-.8-.7l-2 0l-.2-.3l0-1l-.3-.2l0 1.5l-.2 .2l0 1l-.5 .3l-.3-.3l0-1l-.2-.2l0-2l-.3 0l-1-1l-.5 0l0 .7l-.2 .3l0 1.2l-.3 .3l-1.2 0l-.3-.3l0-1.2l-.2-.3l0-2.5l-.3-.2l-2 0l-.5 .5l0 1.2l-.2 .3l0 .7l-.5 .3l-.3-.3l0-.7l-.5 0l-.7 .7l0 1l-1 1l0 5l-1 1l0 1l-.3 .3l-.2-.3l0-1.2l-.3-.3l0-1.7l-.2-.3l0-1l-.5-.5l0-8l-1-1l0-1l-1-1l0-6l-.8-.7l-2 0l-.7 .7l0 3l-1 1l0 1l-1 1l0 2l-1 1l0 10l-.3 .3l-.2-.3l0-3l-.5-.5l.5-.5l0-6l-1-1l0-4l-.8-.7l-1 0l-.2-.3l0-9l-.5-.5l.5-.5l0-3l-1-1l0-3l-1-1l0-1l-.8-.7l-2 0l-2.7 2.7l0 2l.5 .5l-.5 .5l0 4l.5 .5l-.5 .5l0 6l1 1l-1 1l0 2l-.3 .3l-1 0l-.7 .7l0 5l-.3 .3l-2 0l-1 1l-.2-.3l0-5l-.5-.5l.5-.5l0-6l-.5-.5l.5-.5l0-9l-.5-.5l.5-.5l0-5l-.5-.5l.5-.5l0-1.5l-.3-.2l0-.8l-.2-.2l0-1.8l-.3-.2l-2 0l-.5 .5l-.5-.5l-2 0l-.7 .7l0 12l-1 1l0 8l-1 1l0 1l-1 1l0 2l1 1l0 7l-1 1l0 13l-.3 .3l-1.2-1.3l0-4l-1-1l1-1l0-7l-1-1l0-9l-1-1l0-3l-.5-.5l.5-.5l0-3l-1-1l0-4l-.8-.7l-2 0l-.7 .7l0 5l-1 1l0 6l-1 1l0 2l-1 1l0 15l-1 1l0 3l-.3 .3l-1 0l-.2-.3l0-5l-.5-.5l.5-.5l0-2l-.8-.7l-2 0l-.2-.3l0-9l-1-1l0-5l-.5-.5l.5-.5l0-2l-1-1l0-2.2l-.3-.3l0-1.2l-.2-.3l0-2.5l-.3-.2l-2 0l-.7 .7l0 13l-1 1l0 3l-1 1l0 3l-1 1l0 1l-.8 .8l0 .7l-.2 .3l0 1.2l-.3 .3l-1 0l-.7 .7l0 7l-1.3 1.3l-.2-.3l0-1l-1-1l0-11l-1-1l0-4l-1-1l0-3l-1-1l0-6l-.8-.7l-3 0l-.5 .5l0 2.2l-.2 .3l0 1.7l-1 1l0 2l1 1l-1 1l0 3l.5 .5l-.5 .5l0 12l.5 .5l-.5 .5l0 3l-.3 .3l-.2-.3l0-2l-1-1l0-31l-1-1l0-1l-.8-.7l-1.5 0l0 3l-.2 .2l0 1.5l-.3 .3l-.5-.3l0-1.5l-.2-.2l0-2.3l-1 1l0 19l-.3 .3l-1.2-1.3l0-12l1-1l0-3l-.8-.7l-2 0l-1.7 1.7l0 1l-.3 .3l-1 0l-.7 .7l0 1l-.3 .3l-2-2l-1 0l-.2-.3l0-1l-.5-.5l.5-.5l0-4l-.8-.7l-2 0l-.7 .7l0 1l-.8 .8l0 1.5l-.2 .2l0 1.8l-1 .7l0 1l-.3 .3l-1 0l-.7 .7l0 16l-1 1l0 3l.5 .5l-.5 .5l0 2l.5 .5l-.5 .5l0 5l-1 1l0 2l-.3 .3l-.2-.3l0-4l-.5-.5l.5-.5l0-4l-1-1l0-13l-2-2l0-5l-1.8-1.7l-3 0l-1.7 1.7l0 4l1 1l-1 1l0 9l-1 1l0 6l-.8 .8l-.7-.8l0-1l-.5-.5l.5-.5l0-5l-1-1l0-1l-1-1l0-2l-1-1l0-5l-1 0l-.3-.2l0-1.3l-.2-.2l0-2.8l-.3-.2l-3 0l-.2-.3l0-1l-1.8-1.7l-2 0l-.7 .7l0 1l-1 1l0 14l-1 1l0 5l-.3 .3l-.2-.3l0-10l-1-1l0-1l-1-1l0-3l-1-1l0-3l-.8-.7l-2 0l-.7 .7l0 4l.5 .5l-.5 .5l0 13l1 1l0 1l-1 1zM954.6 537.4l1.3 1.2l0 1l-.3 .3l-1 0l-.2-.3l0-2zM1250.6 521.4l.3 .2l0 2l-.3 .3l-.2-.3l0-2zM991.6 496.4l1 0l.3 .2l0 2l-.3 .3l-1 0l-.2-.3l0-2zM627.6 492.4l.8 .7l-.8 .8l-.2-.3l0-1zM1069.6 491.4l1 0l.3 .2l0 2l-.3 .3l-1.2-1.3l0-1z" fill="#000" fill-rule="evenodd"/>
<path d="M162 666.15V380.5M689 666.15V380.5M781 666.15V380.5M873 666.15V380.5M956 666.15V380.5M1047 666.15V380.5M1140 666.15V380.5M1184 666.15V380.5M1242 666.15V380.5M1303 666.15V380.5" stroke="#800080" stroke-width="2.04" stroke-dasharray="2.3 3.22" fill="none"/>
<path d="M290.5 666.3l-3.3-5.8h6.6zM301.5 666.3l-3.3-5.8h6.6zM341.5 666.3l-3.3-5.8h6.6zM764.5 666.3l-3.3-5.8h6.6zM797.5 666.3l-3.3-5.8h6.6zM800.5 666.3l-3.3-5.8h6.6zM840.5 666.3l-3.3-5.8h6.6zM1104.5 666.3l-3.3-5.8h6.6zM1301.5 666.3l-3.3-5.8h6.6z" fill="#ffa500"/>
<rect x="162" y="500.5" width="527" height="63" fill="#ffa500" fill-opacity="0.1"/>
<rect x="689" y="499.5" width="92" height="20" fill="#ffa500" fill-opacity="0.1"/>
<rect x="781" y="512" width="92" height="17.3" fill="#ffa500" fill-opacity="0.1"/>
<rect x="873" y="514" width="83" height="20.5" fill="#ffa500" fill-opacity="0.1"/>
<rect x="956" y="502" width="91" height="21" fill="#ffa500" fill-opacity="0.1"/>
<rect x="1047" y="502.5" width="93" height="22" fill="#ffa500" fill-opacity="0.1"/>
<rect x="1140" y="505" width="44" height="22.5" fill="#ffa500" fill-opacity="0.1"/>
<rect x="1184" y="512" width="58" height="28.5" fill="#ffa500" fill-opacity="0.1"/>
<rect x="1242" y="502" width="61" height="17.5" fill="#ffa500" fill-opacity="0.1"/>
<rect x="105.5" y="499" width="1255.3" height="48.8" fill="#f00" fill-opacity="0.1"/>
<line x1="162.8" y1="532.5" x2="690.5" y2="532.5" stroke="#ffa500" stroke-width="2.9"/>
<line x1="689.8" y1="509.5" x2="782.5" y2="509.5" stroke="#ffa500" stroke-width="2.9"/>
<line x1="781.8" y1="520.4" x2="874.5" y2="520.4" stroke="#ffa500" stroke-width="2.9"/>
<line x1="873.8" y1="524.5" x2="957.5" y2="524.5" stroke="#ffa500" stroke-width="2.9"/>
<line x1="956.8" y1="512.5" x2="1048.5" y2="512.5" stroke="#ffa500" stroke-width="2.9"/>
<line x1="1047.8" y1="513.5" x2="1141.5" y2="513.5" stroke="#ffa500" stroke-width="2.9"/>
<line x1="1140.8" y1="516.5" x2="1185.5" y2="516.5" stroke="#ffa500" stroke-width="2.9"/>
<line x1="1184.8" y1="526.5" x2="1243.5" y2="526.5" stroke="#ffa500" stroke-width="2.9"/>
<line x1="1242.8" y1="510.5" x2="1304.5" y2="510.5" stroke="#ffa500" stroke-width="2.9"/>
<line x1="105.5" y1="523.1" x2="1361" y2="523.1" stroke="#f00" stroke-width="2.2"/>
</g>
<text x="425.6" y="656.9" font-size="13.89" text-anchor="middle" letter-spacing="-0.09">65526</text>
<text x="735.1" y="636.9" font-size="13.89" text-anchor="middle" letter-spacing="-0.09">27496</text>
<text x="827.1" y="616.9" font-size="13.89" text-anchor="middle" letter-spacing="-0.09">27860</text>
<text x="913.8" y="656.9" font-size="13.89" text-anchor="middle" letter-spacing="-0.09">25223</text>
<text x="1000.8" y="636.9" font-size="13.89" text-anchor="middle" letter-spacing="-0.09">25856</text>
<text x="1092.8" y="616.9" font-size="13.89" text-anchor="middle" letter-spacing="-0.09">29058</text>
<text x="1161.8" y="656.9" font-size="13.89" text-anchor="middle" letter-spacing="-0.09">29138</text>
<text x="1212.6" y="636.9" font-size="13.89" text-anchor="middle" letter-spacing="-0.09">43713</text>
<text x="1271.8" y="616.9" font-size="13.89" text-anchor="middle" letter-spacing="-0.09">29260</text>
<rect x="105.5" y="380.5" width="1380.0" height="286.0" fill="none" stroke="#000" stroke-width="1.11" stroke-linejoin="miter"/>
<line x1="162.5" y1="666.5" x2="162.5" y2="671.9" stroke="#000" stroke-width="1.11" />
<text x="163.25" y="687" font-size="13.89" text-anchor="middle" letter-spacing="-0.09">0</text>
<line x1="408.5" y1="666.5" x2="408.5" y2="671.9" stroke="#000" stroke-width="1.11" />
<text x="407.55" y="687" font-size="13.89" text-anchor="middle" letter-spacing="-0.09">10000</text>
<line x1="653.5" y1="666.5" x2="653.5" y2="671.9" stroke="#000" stroke-width="1.11" />
<text x="652.9" y="687" font-size="13.89" text-anchor="middle" letter-spacing="-0.09">20000</text>
<line x1="898.5" y1="666.5" x2="898.5" y2="671.9" stroke="#000" stroke-width="1.11" />
<text x="897.55" y="687" font-size="13.89" text-anchor="middle" letter-spacing="-0.09">30000</text>
<line x1="1143.5" y1="666.5" x2="1143.5" y2="671.9" stroke="#000" stroke-width="1.11" />
<text x="1143.25" y="687" font-size="13.89" text-anchor="middle" letter-spacing="-0.09">40000</text>
<line x1="1389.5" y1="666.5" x2="1389.5" y2="671.9" stroke="#000" stroke-width="1.11" />
<text x="1387.45" y="687" font-size="13.89" text-anchor="middle" letter-spacing="-0.09">50000</text>
<line x1="100.1" y1="632.5" x2="105.5" y2="632.5" stroke="#000" stroke-width="1.11" />
<text x="95.4" y="638" font-size="13.89" text-anchor="end" letter-spacing="-0.3">8.9</text>
<line x1="100.1" y1="575.5" x2="105.5" y2="575.5" stroke="#000" stroke-width="1.11" />
<text x="95.4" y="581" font-size="13.89" text-anchor="end" letter-spacing="-0.3">9.0</text>
<line x1="100.1" y1="518.5" x2="105.5" y2="518.5" stroke="#000" stroke-width="1.11" />
<text x="95.4" y="524" font-size="13.89" text-anchor="end" letter-spacing="-0.3">9.1</text>
<line x1="100.1" y1="461.5" x2="105.5" y2="461.5" stroke="#000" stroke-width="1.11" />
<text x="95.4" y="467" font-size="13.89" text-anchor="end" letter-spacing="-0.3">9.2</text>
<line x1="100.1" y1="404.5" x2="105.5" y2="404.5" stroke="#000" stroke-width="1.11" />
<text x="95.4" y="410" font-size="13.89" text-anchor="end" letter-spacing="-0.3">9.3</text>
<text x="795.1" y="372.2" font-size="16.67" text-anchor="middle" letter-spacing="0.03">Magnitude Estimates</text>
<rect x="1365.5" y="387.4" width="113.1" height="48.5" rx="2.8" ry="2.8" fill="#fff" fill-opacity="0.8" stroke="#ccc" stroke-opacity="0.8" stroke-width="1.39"/>
<line x1="1370.5" y1="399.4" x2="1398.5" y2="399.4" stroke="#ffa500" stroke-width="2.9" stroke-linecap="square"/>
<line x1="1370.5" y1="421.9" x2="1398.5" y2="421.9" stroke="#f00" stroke-width="2.2" stroke-linecap="square"/>
<text x="1410" y="403.7" font-size="13.89">mag<tspan font-size="9.85" font-style="oblique" dy="2.6" dx="-0.3">OBSID</tspan></text>
<text x="1409.1" y="426.8" font-size="13.89" text-anchor="start" >mag</text>
<rect x="1408.5" y="634.4" width="70.1" height="25.2" rx="2.8" ry="2.8" fill="#fff" fill-opacity="0.8" stroke="#ccc" stroke-opacity="0.8" stroke-width="1.39"/>
<circle cx="1428.5" cy="647.5" r="1.74" fill="#000"/>
<text x="1453" y="650.6" font-size="13.89" text-anchor="start" letter-spacing="-0.6">OK</text>
</g>
<g id="panel3">
<g clip-path="url(#c3)">
<path d="M164.5 840.5h0M164.5 878.5h0M166.5 840.5h0M166.5 878.5h0M171.5 840.5h0M171.5 878.5h0M174 840.5h0M174 878.5h0M179 840.5h0M179 878.5h0M181 840.5h0M181 878.5h0M211 840.5h0M211 878.5h0M219.5 840.5h0M219.5 878.5h0M238 840.5h0M238 878.5h0M263.5 840.5h0M263.5 878.5h0M265 840.5h0M265 878.5h0M269.5 840.5h0M269.5 878.5h0M327.5 840.5h0M327.5 878.5h0M329.5 840.5h0M329.5 878.5h0M336.5 840.5h0M336.5 878.5h0M348.5 840.5h0M348.5 878.5h0M367.5 840.5h0M367.5 878.5h0M375.5 840.5h0M375.5 878.5h0M379.5 840.5h0M379.5 878.5h0M401.5 840.5h0M401.5 878.5h0M420 840.5h0M420 878.5h0M431.5 840.5h0M431.5 878.5h0M440.5 840.5h0M440.5 878.5h0M458.5 840.5h0M458.5 878.5h0M466.5 840.5h0M466.5 878.5h0M484.5 840.5h0M484.5 878.5h0M492.5 840.5h0M492.5 878.5h0M504 840.5h0M504 878.5h0M505.5 840.5h0M505.5 878.5h0M550.5 840.5h0M550.5 878.5h0M615.5 840.5h0M615.5 878.5h0M622.5 840.5h0M622.5 878.5h0M686.5 840.5h0M686.5 878.5h0M729 840.5h0M729 878.5h0M750.5 840.5h0M750.5 878.5h0M787.5 840.5h0M787.5 878.5h0M821.5 840.5h0M821.5 878.5h0M843.5 840.5h0M843.5 878.5h0M846.5 840.5h0M846.5 878.5h0M863.5 840.5h0M863.5 878.5h0M900.5 840.5h0M900.5 878.5h0M918.5 840.5h0M918.5 878.5h0M961.5 840.5h0M961.5 878.5h0M1015.5 840.5h0M1015.5 878.5h0M1154.5 840.5h0M1154.5 878.5h0M1184.5 840.5h0M1184.5 878.5h0M1186 840.5h0M1186 878.5h0M1202.5 840.5h0M1202.5 878.5h0M1210.5 840.5h0M1210.5 878.5h0M1224.5 840.5h0M1224.5 878.5h0M1232.5 840.5h0M1232.5 878.5h0M1288.5 840.5h0M1288.5 878.5h0M1302.5 840.5h0M1302.5 878.5h0M162.5 763.5h0M163.5 763.5h0M164.5 763.5h0M689.5 763.5h0M690.5 763.5h0M691.5 763.5h0M781.5 763.5h0M782.5 763.5h0M783.5 763.5h0M873.5 763.5h0M874.5 763.5h0M875.5 763.5h0M956.5 763.5h0M957.5 763.5h0M958.5 763.5h0M1047.5 763.5h0M1048.5 763.5h0M1049.5 763.5h0M1140.5 763.5h0M1141.5 763.5h0M1142.5 763.5h0M1184.5 763.5h0M1185.5 763.5h0M1186.5 763.5h0M1242.5 763.5h0M1243.5 763.5h0M1244.5 763.5h0" stroke="#000" stroke-width="3.1" stroke-linecap="round" fill="none"/>
<line x1="105.5" y1="763.5" x2="1485.5" y2="763.5" stroke="#b0b0b0" stroke-width="1.11" stroke-dasharray="1.11 1.834"/>
<line x1="105.5" y1="802.5" x2="1485.5" y2="802.5" stroke="#b0b0b0" stroke-width="1.11" stroke-dasharray="1.11 1.834"/>
<line x1="105.5" y1="840.5" x2="1485.5" y2="840.5" stroke="#b0b0b0" stroke-width="1.11" stroke-dasharray="1.11 1.834"/>
<line x1="105.5" y1="878.5" x2="1485.5" y2="878.5" stroke="#b0b0b0" stroke-width="1.11" stroke-dasharray="1.11 1.834"/>
<line x1="105.5" y1="916.5" x2="1485.5" y2="916.5" stroke="#b0b0b0" stroke-width="1.11" stroke-dasharray="1.11 1.834"/>
<path d="M162 954.15V725.5M689 954.15V725.5M781 954.15V725.5M873 954.15V725.5M956 954.15V725.5M1047 954.15V725.5M1140 954.15V725.5M1184 954.15V725.5M1242 954.15V725.5M1303 954.15V725.5" stroke="#800080" stroke-width="2.04" stroke-dasharray="2.3 3.22" fill="none"/>
</g>
<g clip-path="url(#c4)">
<g fill="#f00"><circle cx="171.5" cy="990.5" r="1.35"/><circle cx="170.5" cy="993.5" r="1.35"/><circle cx="183.5" cy="992.5" r="1.35"/><circle cx="199.5" cy="993.5" r="1.35"/><circle cx="201.5" cy="991.5" r="1.35"/><circle cx="203.5" cy="990.5" r="1.35"/><circle cx="207.5" cy="992.5" r="1.35"/><circle cx="210.5" cy="985.5" r="1.35"/><circle cx="217.5" cy="993.5" r="1.35"/><circle cx="220.5" cy="991.5" r="1.35"/><circle cx="229.5" cy="990.5" r="1.35"/><circle cx="229.5" cy="993.5" r="1.35"/><circle cx="235.5" cy="990.5" r="1.35"/><circle cx="248.5" cy="990.5" r="1.35"/><circle cx="248.5" cy="993.5" r="1.35"/><circle cx="254.5" cy="992.5" r="1.35"/><circle cx="264.5" cy="990.5" r="1.35"/><circle cx="268.5" cy="991.5" r="1.35"/><circle cx="275.5" cy="993.5" r="1.35"/><circle cx="282.5" cy="993.5" r="1.35"/><circle cx="285.5" cy="993.5" r="1.35"/><circle cx="293.5" cy="992.5" r="1.35"/><circle cx="295.5" cy="992.5" r="1.35"/><circle cx="299.5" cy="990.5" r="1.35"/><circle cx="304.5" cy="991.5" r="1.35"/><circle cx="305.5" cy="993.5" r="1.35"/><circle cx="312.5" cy="992.5" r="1.35"/><circle cx="339.5" cy="993.5" r="1.35"/><circle cx="341.5" cy="986.5" r="1.35"/><circle cx="358.5" cy="990.5" r="1.35"/><circle cx="360.5" cy="989.5" r="1.35"/><circle cx="360.5" cy="992.5" r="1.35"/><circle cx="364.5" cy="990.5" r="1.35"/><circle cx="365.5" cy="992.5" r="1.35"/><circle cx="376.5" cy="993.5" r="1.35"/><circle cx="379.5" cy="992.5" r="1.35"/><circle cx="385.5" cy="990.5" r="1.35"/><circle cx="404.5" cy="990.5" r="1.35"/><circle cx="408.5" cy="987.5" r="1.35"/><circle cx="408.5" cy="990.5" r="1.35"/><circle cx="410.5" cy="992.5" r="1.35"/><circle cx="428.5" cy="990.5" r="1.35"/><circle cx="428.5" cy="992.5" r="1.35"/><circle cx="449.5" cy="992.5" r="1.35"/><circle cx="456.5" cy="991.5" r="1.35"/><circle cx="463.5" cy="991.5" r="1.35"/><circle cx="468.5" cy="991.5" r="1.35"/><circle cx="468.5" cy="993.5" r="1.35"/><circle cx="514.5" cy="992.5" r="1.35"/><circle cx="516.5" cy="993.5" r="1.35"/><circle cx="560.5" cy="991.5" r="1.35"/><circle cx="560.5" cy="993.5" r="1.35"/><circle cx="580.5" cy="993.5" r="1.35"/><circle cx="585.5" cy="992.5" r="1.35"/><circle cx="606.5" cy="992.5" r="1.35"/><circle cx="612.5" cy="991.5" r="1.35"/><circle cx="612.5" cy="993.5" r="1.35"/><circle cx="617.5" cy="993.5" r="1.35"/><circle cx="625.5" cy="992.5" r="1.35"/><circle cx="670.5" cy="993.5" r="1.35"/><circle cx="689.5" cy="993.5" r="1.35"/><circle cx="764.5" cy="985.5" r="1.35"/><circle cx="797.5" cy="992.5" r="1.35"/><circle cx="829.5" cy="989.5" r="1.35"/><circle cx="852.5" cy="991.5" r="1.35"/><circle cx="967.5" cy="992.5" r="1.35"/><circle cx="1104.5" cy="989.5" r="1.35"/><circle cx="1103.5" cy="992.5" r="1.35"/><circle cx="1116.5" cy="993.5" r="1.35"/><circle cx="1135.5" cy="991.5" r="1.35"/><circle cx="1135.5" cy="993.5" r="1.35"/><circle cx="1145.5" cy="987.5" r="1.35"/><circle cx="1145.5" cy="987.5" r="1.35"/><circle cx="1195.5" cy="992.5" r="1.35"/><circle cx="1212.5" cy="983.5" r="1.35"/><circle cx="1212.5" cy="992.5" r="1.35"/><circle cx="1301.5" cy="985.5" r="1.35"/></g>
<path d="M161.4 995.4l.2 1.2l-.2 .3l.2 1.2l-.2 .3l.2 1.2l-.2 .3l.2 1.2l-.2 .3l.2 1.2l-.2 .3l.2 1.2l-.2 .3l.2 1.2l-.2 .3l.2 1.2l-.2 .3l0 2.5l.7 .7l10 0l.5-.5l.5 .5l1 0l.5-.5l3 0l.5 .5l7 0l.5-.5l.5 .5l1 0l.5-.5l.5 .5l5 0l.5-.5l.5 .5l7 0l.5-.5l.5 .5l2 0l.5-.5l.5 .5l11 0l.5-.5l.5 .5l4 0l.5-.5l.5 .5l4 0l.5-.5l.5 .5l1 0l.5-.5l1 0l.5 .5l3 0l.5-.5l.5 .5l3 0l.5-.5l.5 .5l9 0l.5-.5l.5 .5l2 0l.5-.5l.5 .5l3 0l.5-.5l.5 .5l3 0l.5-.5l.5 .5l3 0l.5-.5l.5 .5l2 0l.5-.5l1 0l.5 .5l5 0l.5-.5l.5 .5l2 0l.5-.5l1 0l.5 .5l2 0l.5-.5l.5 .5l4 0l.5-.5l.5 .5l5 0l.5-.5l.5 .5l11 0l.5-.5l.5 .5l3 0l.5-.5l3 0l.5 .5l3 0l.5-.5l.5 .5l3 0l.5-.5l.5 .5l1 0l.5-.5l.5 .5l3 0l.5-.5l2 0l.5 .5l1 0l.5-.5l.5 .5l16 0l.5-.5l.5 .5l1 0l.5-.5l.5 .5l3 0l.5-.5l.5 .5l1 0l.5-.5l.5 .5l4 0l.5-.5l.5 .5l2 0l.5-.5l.5 .5l4 0l.5-.5l.5 .5l1 0l.5-.5l.5 .5l2 0l.5-.5l.5 .5l2 0l.5-.5l.5 .5l4 0l.5-.5l.5 .5l3 0l.5-.5l.5 .5l3 0l.5-.5l.5 .5l1 0l.5-.5l1 0l.5 .5l1 0l.5-.5l.5 .5l9 0l.5-.5l.5 .5l6 0l.5-.5l.5 .5l7 0l.5-.5l.5 .5l15 0l.5-.5l.5 .5l4 0l.5-.5l.5 .5l20 0l.5-.5l.5 .5l3 0l.5-.5l.5 .5l1 0l.5-.5l1 0l.5 .5l2 0l.5-.5l.5 .5l1 0l.5-.5l.5 .5l7 0l.5-.5l.5 .5l1 0l.5-.5l1 0l.5 .5l1 0l.5-.5l.5 .5l1 0l.5-.5l.5 .5l4 0l.5-.5l1 0l.5 .5l2 0l.5-.5l2 0l.5 .5l2 0l.5-.5l.5 .5l2 0l.5-.5l.5 .5l3 0l.5-.5l.5 .5l7 0l.5-.5l1 0l.5 .5l7 0l.5-.5l.5 .5l10 0l.5-.5l.5 .5l9 0l.5-.5l.5 .5l2 0l.5-.5l1 0l.5 .5l2 0l.5-.5l1 0l.5 .5l4 0l.5-.5l.5 .5l2 0l.5-.5l.5 .5l9 0l.5-.5l.5 .5l6 0l.5-.5l.5 .5l1 0l.5-.5l.5 .5l1 0l.5-.5l.5 .5l11 0l.5-.5l1 0l.5 .5l8 0l.5-.5l1 0l.5 .5l4 0l.5-.5l.5 .5l14 0l.5-.5l.5 .5l3 0l.5-.5l2 0l.5 .5l2 0l.5-.5l.5 .5l4 0l.5-.5l.5 .5l5 0l.5-.5l.5 .5l2 0l.5-.5l1 0l.5 .5l1 0l.5-.5l.5 .5l3 0l.5-.5l.5 .5l1 0l.5-.5l1 0l.5 .5l1 0l.5-.5l.5 .5l3 0l.5-.5l.5 .5l4 0l.5-.5l.5 .5l3 0l.5-.5l.5 .5l1 0l.5-.5l2 0l.5 .5l11 0l.5-.5l.5 .5l3 0l.5-.5l.5 .5l2 0l.5-.5l.5 .5l5 0l.5-.5l.5 .5l4 0l.5-.5l.5 .5l3 0l.5-.5l1 0l.5 .5l4 0l.5-.5l.5 .5l6 0l.5-.5l.5 .5l1 0l.5-.5l.5 .5l1 0l.5-.5l2 0l.5 .5l6 0l.5-.5l.5 .5l2 0l.5-.5l.5 .5l4 0l.5-.5l.5 .5l4 0l.5-.5l.5 .5l1 0l.5-.5l1 0l.5 .5l8 0l.5-.5l.5 .5l4 0l.5-.5l1 0l.5 .5l6 0l.5-.5l.5 .5l5 0l.5-.5l.5 .5l1 0l.5-.5l1 0l.5 .5l13 0l.5-.5l.5 .5l1 0l.5-.5l.5 .5l1 0l.5-.5l.5 .5l6 0l.5-.5l.5 .5l7 0l.5-.5l.5 .5l4 0l.5-.5l.5 .5l5 0l.5-.5l.5 .5l3 0l.5-.5l.5 .5l1 0l.5-.5l.5 .5l8 0l.5-.5l.5 .5l1 0l.5-.5l.5 .5l5 0l.5-.5l.5 .5l3 0l.5-.5l.5 .5l2 0l.5-.5l1 0l.5 .5l12 0l.5-.5l.5 .5l9 0l.5-.5l.5 .5l7 0l.5-.5l.5 .5l1 0l.5-.5l.5 .5l11 0l.5-.5l.5 .5l14 0l.5-.5l.5 .5l3 0l.5-.5l1 0l.5 .5l5 0l.5-.5l.5 .5l4 0l.5-.5l.5 .5l2 0l.5-.5l.5 .5l3 0l.5-.5l.5 .5l2 0l.5-.5l.5 .5l2 0l.5-.5l.5 .5l2 0l.5-.5l1 0l.5 .5l9 0l.5-.5l2 0l.5 .5l3 0l.5-.5l1 0l.5 .5l3 0l.5-.5l.5 .5l1 0l.5-.5l.5 .5l6 0l.5-.5l.5 .5l3 0l.5-.5l.5 .5l3 0l.5-.5l.5 .5l3 0l.5-.5l.5 .5l14 0l.5-.5l1 0l.5 .5l8 0l.5-.5l.5 .5l5 0l.5-.5l.5 .5l1 0l.5-.5l.5 .5l1 0l.5-.5l1 0l.5 .5l4 0l.5-.5l.5 .5l2 0l.5-.5l.5 .5l11 0l.5-.5l.5 .5l6 0l.5-.5l1 0l.5 .5l4 0l.5-.5l1 0l.5 .5l10 0l.5-.5l.5 .5l12 0l.5-.5l1 0l.5 .5l4 0l.5-.5l1 0l.5 .5l16 0l.5-.5l2 0l.5 .5l3 0l.5-.5l.5 .5l2 0l.5-.5l1 0l.5 .5l3 0l.5-.5l1 0l.5 .5l10 0l.5-.5l.5 .5l8 0l.5-.5l.5 .5l7 0l.5-.5l.5 .5l3 0l.5-.5l.5 .5l15 0l.5-.5l1 0l.5 .5l2 0l.5-.5l.5 .5l1 0l.5-.5l.5 .5l16 0l.5-.5l1 0l.5 .5l2 0l.5-.5l.5 .5l3 0l.5-.5l.5 .5l1 0l.5-.5l.5 .5l14 0l.5-.5l.5 .5l11 0l.5-.5l.5 .5l11 0l.5-.5l.5 .5l4 0l.5-.5l.5 .5l4 0l.5-.5l.5 .5l14 0l.5-.5l1 0l.5 .5l2 0l.5-.5l.5 .5l5 0l.5-.5l.5 .5l3 0l.5-.5l1 0l.5 .5l4 0l.5-.5l.5 .5l3 0l.5-.5l.5 .5l2 0l.5-.5l.5 .5l5 0l1.8-1.2l0-9l-.8-.8l-1 0l-.5 .5l-.5 0l-.5-1.5l.3-1.2l-.8-.8l-1 0l-.5 .5l-2.5 0l-1-1l-1 0l-1 1l-.5 0l-.5-.5l-2 0l-1.7 1.3l.2 1.2l-.5 .5l-1 0l-1-1l-.5 0l-1.5-1l-2 0l-1-1.5l-2 0l-1 1.5l-3 0l-1 1l-1 0l-1-1.5l-1 0l-.5 .5l-1.5-1l-1 0l-1 1.5l-1.5 0l-1.5-1.5l-1 0l-1 1.5l-1-1l-1 0l-.7 .8l.2 1.2l-.5 .5l-.5 0l-.5-.5l-1 0l-.2-1.2l-1.8-1.3l-2 0l-1 1.5l-.5 0l-1.5-1l-2 0l-.5-.5l.3-1.2l-.8-.8l-2 0l-.7 .8l.2 1.2l-.5 1.5l-3 0l-1-1l-1 0l-.5 .5l-1.5 0l-.5 .5l-.5 0l-.5-.5l.3-.2l-.3-1.3l.3-1.2l-.8-.8l-1 0l-.7 .8l.2 1.2l-.5 1.5l-1 0l-1-1l-.5 0l-.7-.7l0-1l-.8-.8l-2 0l-.7 .8l0 1l-1.3 1.2l-1 0l-1.5 1l-.5 0l-.5-.5l.3-.2l-.3-1.3l.3-1.2l-.8-.8l-2 0l-.7 .8l.2 1.2l-.5 1.5l-.5-1.5l.3-1.2l-.8-.8l-1 0l-.7 .8l.2 1.2l-.5 1.5l-.2-1.2l-.8-.8l-1.2 .3l-1.8-1.3l-2 0l-.7 .8l.2 1.2l-.2 1.3l.2 .2l-1.2 1.3l-1.5-1l-.3-.8l.3-1.2l-.8-.8l-1 0l-.5 .5l-1.5-1l-2 0l-2.2 1.3l-.8-.8l-1 0l-.7 .8l.2 1.2l-.5 .5l-.5-.5l.3-1.2l-.8-.8l-2 0l-.7 .8l-1.3-.3l-.2-1.2l-.8-.8l-1 0l-.7 .8l.2 1.2l-.2 1.3l.2 .2l-.5 1.5l-.5-1.5l.3-.2l-.3-1.3l.3-1.2l-.8-.8l-2 0l-.7 .8l.2 1.2l-.2 .3l.2 1.2l-.2 1.3l.2 .2l-.5 .5l-1.2-.2l-.3-.8l.3-.2l-.3-1.3l.3-1.2l-.8-.8l-2 0l-.7 .8l0 1l-1.3 .2l-.7 .8l-.3 1.2l-.5 0l-1.5-1l-3 0l-1.2 .8l-.8-.8l-1 0l-.5 .5l-3.5 0l-1-1.5l-1 0l-.5 .5l-1.5 0l-1 1l-2 0l-1 1l-.2-1.2l-.8-.8l-2 0l-.2 .3l-.8-.8l-2 0l-.7 .8l.2 1.2l-.5 1l-2.2-.7l-.3-1.3l.3-.2l-.3-1.3l.3-1.2l-.8-.8l-2 0l-.7 .8l.2 1.2l-.2 1.3l.2 .2l-.5 1l-3 0l-1 1l-.2-.2l0-4l-.8-.8l-1 0l-1.5 1.5l-.5 0l-1-1l-2 0l-1.7 1.3l.2 1.2l-.2 .8l-.8 .2l-.5-.5l-1.2-.2l-.3-.8l.3-.2l-.3-1.3l.3-1.2l-.8-.8l-4 0l-.7 .8l.2 1.2l-.5 2l-.5 0l-.5-.5l-1.5 0l-.5-.5l-2 0l-.5 .5l-1.5-1l-3 0l-.2-1.2l-.8-.8l-2 0l-.7 .8l.2 1.2l-.5 .5l-1-1.5l-1 0l-.7 .8l0 1l-.8 .7l-.7-.2l-.3-.8l.3-1.2l-.8-.8l-2 0l-1.7 1.8l.2 1.2l-.5 .5l-.5-.5l.3-1.2l-.8-.8l-1 0l-.7 .8l-.3 1.2l-2.5 0l-1.5-1l-1 0l-.5 .5l-.5 0l-.5-1l.3-1.2l-.8-.8l-2 0l-.7 .8l-.3-.3l-2 0l-.7 .8l.2 1.2l-.5 .5l-1-1l-.5 0l-1.5-1l-2 0l-.5 .5l-.5 0l-1 1.5l-1-1.5l-1 0l-2.5 2.5l-2.5 0l-.5-.5l.3-1.2l-.8-.8l-1 0l-1 1l-1-1l-1 0l-1 1.5l-1-1.5l-1 0l-1-1l-1 0l-.7 .8l.2 1.2l-.2 .8l-.8 .2l-2.5-2.5l-.5 0l-.5-.5l-5 0l-.5 .5l-1.5 .5l-1.5 1.5l-2.5-.5l-1-1l-2 0l-.7 .8l.2 1.2l-.2 1.3l-.8 .7l-1.5-1l-2.5 0l-1-1l.3-1.2l-.8-.8l-1.2 .3l-.8-.8l-1 0l-.7 .8l.2 1.2l-.2 1.3l.2 .2l-.5 1.5l-2.5-1l-.7-.7l-.3-1.3l.3-.2l-.3-1.3l.3-1.2l-.8-.8l-1 0l-.7 .8l.2 1.2l-.5 1.5l-2 0l-1.5 1.5l-.5 0l-1.5 1l-.5 0l-2.2-2.7l-.3-1.3l.3-1.2l-.8-.8l-2 0l-.7 .8l0 1l-.8 .7l-1.5 0l-1.5 1.5l-.5 0l-2-1.5l-2 0l-.7 .8l.2 1.2l-.5 1.5l-.5 0l-.7-.7l-.3-.8l.3-1.2l-.8-.8l-1.2 .3l-.8-.8l-1 0l-.7 .8l-.3 1.2l-.5 0l-.5-.5l-1 0l-1-1l-4 0l-.7 .8l0 1l-.8 .7l-.5 0l-1.5 1l-1 0l-1.7-1.2l-.3-.8l.3-1.2l-.8-.8l-2 0l-1 1l-.5-.5l.3-1.2l-.8-.8l-2 0l-1 1.5l-1 0l-.7 .8l0 2l-1.5 1l-1.8-2.3l-.5 0l-.5-.5l-1.5 0l-2.5-1.5l-2 0l-.5 .5l-.5 0l-1.7 1.8l-1.3-.3l-1-1l-1 0l-.5 .5l-.7-.7l0-1l-.8-.8l-1 0l-.7 .8l.2 1.2l-.2 .3l0 5l-.3 .2l-3.5 0l-.5-.5l-2.5 .5l-.5-.5l-1.5 0l-.5-.5l-2 0l-1-1.5l-1 0l-1 1.5l-.5-.5l.3-1.2l-.8-.8l-1 0l-.7 .8l.2 1.2l-.2 .8l-1.3 .2l-.5-1l.3-1.2l-1-1l-.3-.8l.3-.2l-.3-1.3l.3-1.2l-.8-.8l-2 0l-.7 .8l.2 1.2l-.2 .3l.2 1.2l-.2 1.3l.2 .2l-.2 1.3l-.8 .7l-.7-.2l0-.5l-1.8-2.3l-1 0l-1 1.5l-1 0l-1-1l-1 0l-1 1l-1-1l-1 0l-.7 .8l.2 1.2l-.5 1l-.5-1l.3-1.2l-.8-.8l-2 0l-2 2l-1-1.5l-2 0l-.7 .8l-.3-.3l-2 0l-1 1l-1 0l-.5 .5l-1.5 0l-.5 .5l-3 0l-1.5-1.5l-.5 0l-1.5-1l-2 0l-1.5 1l-.5-.5l-2 0l-1 1.5l-1 0l-.2-1.2l-.8-.8l-2 0l-.7 .8l.2 1.2l-.2 .8l-1.3 .2l-.5 .5l-2 0l-.5-.5l-.5 0l-1-1l.3-1.2l-.8-.8l-1 0l-1.5 1.5l-.5 0l-1-1.5l-2 0l-.5 .5l-1-1l.3-1.2l-.8-.8l-1 0l-1 1l-1-1.5l-1 0l-.5 .5l-.5-.5l-1 0l-1 1l-1.5 0l-.5-.5l-1 0l-.7 .8l-1.3-.8l-3 0l-.2 .3l-.8-.8l-2 0l-.7 .8l0 1l-1.3 .2l-1-1.5l-1 0l-.7 .8l-1.3-1.8l-.5 0l-.5-.5l-1 0l-.7 .8l.2 1.2l-.5 1l-3.5 0l-1.5-1l-1.2-.2l-.3-.8l.3-1.2l-.8-.8l-1 0l-1 1l-1 0l-.7 .8l.2 1.2l-.2 .3l.2 1.2l-.2 1.3l.2 .2l-.5 .5l-2-2.5l-.5 0l-.5-.5l-1.5 0l-.5-.5l-1 0l-1-1l-2 0l-.7 .8l.2 1.2l-.5 .5l-.5-.5l.3-1.2l-.8-.8l-2 0l-1 1l-2 0l-.7 .8l-.3 1.2l-1-1l-1 0l-.5-.5l.3-1.2l-.8-.8l-1 0l-1.7 1.8l-.3 1.7l-.5 0l-1.5-2l-1 0l-1 1l-2 0l-1-1.5l-1 0l-1 1.5l-1 0l-.5 .5l-1.5 .5l-.5-1.5l.3-1.2l-.8-.8l-1 0l-1 1l-.5 0l-.5-.5l-4 0l-1.5 1.5l-.5-.5l-2 0l-1 1l-.5-.5l.3-1.2l-.8-.8l-1.2 .3l-.8-.8l-2 0l-1 1l-1 0l-1.5 1.5l-1.5 .5l-.5-1l.3-1.2l-.8-.8l-2 0l-.7 .8l.2 1.2l-1 1.5l-1.5 .5l-.5-1l.3-1.2l-.8-.8l-1 0l-.7 .8l.2 1.2l-.5 1l-.2-.2l0-2.5l-.8-.8l-2 0l-1-1.5l-1 0l-1 1l-1 0l-1 1.5l-4 0l-.2 .3l-.8-.8l-2 0l-1 1l-2-1.5l-1.5 0l-.5-.5l-1 0l-.7 .8l0 .5l-1.8 1.7l-.5 0l-.5 .5l-2.5-2.5l-.5 0l-.5-.5l-6 0l-.2 .3l-.8-.8l-2 0l-.7 .8l.2 1.2l-.5 1.5l-1-1l-1 0l-1-1.5l-2 0l-.7 .8l0 1l-.8 .7l-1.5-1l-1 0l-.2-1.2l-.8-.8l-2 0l-.7 .8l.2 1.2l-.5 .5l-3 0l-.5 .5l-1.7-.2l-.3-.8l.3-1.2l-.8-.8l-2 0l-.5 .5l-1.5 0l-1 1.5l-.2-1.2l-.8-.8l-1 0l-.5 .5l-1.7 .3l-.8-.8l-1 0l-.5 .5l-2.5 0l-.5 .5l-1.5 .5l-.5-1l.3-1.2l-.8-.8l-1 0l-.7 .8l.2 1.2l-.2 .3l.2 1.2l-.2 1.3l.2 .2l-.5 .5l-.2-1.2l-.8-.8l-1 0l-1-1.5l-1 0l-1 1l-4 0l-2.5 1.5l-1 0l-1.5-1l-2 0l-.5-1.5l.3-1.2l-.8-.8l-2 0l-1.7 1.3l-1.3-.3l-.7 .8l.2 1.2l-.5 1l-3 0l-.5-1l.3-1.2l-.8-.8l-2 0l-.7 .8l.2 1.2l-1 1.5l-.5 0l-2-2l-2 0l-.5 .5l-.5 0l-2-2.5l-1 0l-1 1.5l-3 0l-2 2l-.5-1l.3-1.2l-.8-.8l-2 0l-1.7 1.3l.2 1.2l-.5 .5l-.5-.5l.3-.2l-.3-1.3l.3-1.2l-.8-.8l-2 0l-.7 .8l.2 1.2l-.5 1l-.5 0l-1.5-1l-3 0l-.5 .5l-2.5 0l-.5 .5l-.5 0l-.2-.2l0-2l-.8-.8l-1 0l-.7 .8l0 .5l-1.3 .2l-.7 .8l0 1l-.8 .7l-.5 0l-4-4l-1 0l-.7 .8l0 1l-.8 .7l-.5 0l-1.5 1l-1.5-1.5l-1.5 0l-.5-.5l-2 0l-1 1l-2 0l-.2-1.7l-.8-.8l-2 0l-.7 .8l.2 1.2l-.2 1.3l.2 .2l-.5 1.5l-1.5-.5l-1.5-2l-1 0l-1 1l-.5-1l.3-1.2l-.8-.8l-3 0l-.5 .5l-.5 0l-1-1l-1 0l-.7 .8l-.3 1.2l-1.5 0l-.5-.5l-2 0l-1 1.5l-.5 0l-1.5-1.5l-.5 0l-.5-.5l-2 0l-1 1l-1 0l-1.5 2l-2.5 0l-.5 .5l-3.5 0l-.5-1l.3-1.2l-.8-.8l-1 0l-.5 .5l-1.5 0l-.7 .8l-.3 1.2l-.5-1l.3-1.2l-.8-.8l-.5 0l-.5-.5l-2 0l-1 1l-1 0l-.5 .5l-.5 0l-1-1l-2 0l-.7 .8l.2 1.2l-.2 1.3l.2 .2l-.5 1l-1.5 0l-.5-.5l-1 0l-.5-1.5l.3-1.2l-1.8-1.8l-1 0l-.7 .8l-.3 1.2l-2 0l-.5-.5l.3-1.2l-.8-.8l-1 0l-1.5 2l-.5-.5l-1 0l-.5 .5l-1.5 0l-.2-1.2l-.8-.8l-1 0l-.5 .5l-.5-.5l-2 0l-.7 .8l.2 1.2l-.5 1l-1-1l-2 0l-1 1l-1-1.5l-1 0l-1 1.5l-1 0l-2.5 1.5l-.5 0l-.5-.5l.3-1.2l-.8-.8l-2 0l-2-1.5l-1 0l-.7 .8l.2 1.2l-.5 1.5l-2.5 .5l-1.5-1l-1.2-.2l-.3-.8l.3-1.2l-.8-.8l-2 0l-1 1.5l-1 0l-.7 .8l-.3 1.2l-1.2-1.2l0-1l-.8-.8l-1 0l-1 1l-2 0l-.5 .5l-2.5 1l-.2-1.2l-.8-.8l-2 0l-.5 .5l-1.5-1.5l-1 0l-1 1l-1 0l-.5 .5l-.5 0l-1-1.5l-2 0l-.7 .8l.2 1.2l-.5 1l-.2-.7l-1.8-1.8l-1 0l-.5 .5l-3.5 0l-.7 .8l-1.3-.8l-3 0l-.7 .8l0 1l-.8 .2l-1.5-2l-2 0l-1 1.5l-.5-1l.3-1.2l-.8-.8l-1 0l-.7 .8l-.3-.3l-2 0l-1.7 1.8l.2 1.2l-.2 1.3l-1 1l-1.5-2l0-1l-1-1l0-1l-.8-.8l-2 0l-1.2 1.3l-.8-.8l-1 0l-.7 .8l.2 1.2l-.5 1l-.5-.5l.3-1.2l-.8-.8l-1 0l-1-1l-2 0l-.7 .8l.2 1.2l-.5 1.5l-.2-1.2l-.8-.8l-1 0l-.5 .5l-.5-.5l-1 0l-.5 .5l-1.5 0l-1-1l-2 0l-1 1l-4 0l-.5 .5l-.5 0l-.2-1.2l-.8-.8l-2 0l-.2 .3l-.8-.8l-2 0l-1 1l-.5 0l-.5-.5l-2 0l-1 1.5l-1.5 0l-1.5-1.5l-1 0l-1 1l-1-1.5l-1 0l-.7 .8l.2 1.2l-.2 .8l-1.3 1.2l-1.5-.5l-.7-.7l0-1l-.8-.8l-1 0l-1 1l-.5 0l-.5-.5l-1.5 0l-1.5-1l-2 0l-.7 .8l0 .5l-2 2l-.8-.8l.3-1.2l-.8-.8l-1 0l-.7 .8l-.3 1.2l-.2-1.2l-.8-.8l-.5 0l-1.5-1l-3 0l-.5 .5l-.5-.5l-2 0l-1 1l-2 0l-1.5 1.5l-.5-.5l-.5 0l-1.5-1.5l-2.5 0l-.5-.5l-2 0l-.7 .8l.2 1.2l-.2 1.3l-2.3 1.7l-.5-1l.3-1.2l-1-1l0-1l-.8-.8l-2 0l-.5 .5l-.5-.5l-2 0l-1.5 1.5l-.5 0l-1-1l-1 0l-.5 .5l-.5-.5l-1 0l-.7 .8l-.3-.3l-3 0l-1-1l-2 0l-.5 .5l-.5-.5l-2 0l-.7 .8l-.3 1.2l-.2-.7l-1.8-1.3l-2 0l-1.2 .8l-.8-.8l-1 0l-.7 .8l-.3 1.2l-1-1l-2 0l-1-1l-1 0l-2 2l-.5 0l-.5-.5l-2 0l-.5 .5l-.5 0l-.2-1.2l-.8-.8l-1 0l-.7 .8l.2 1.2l-.5 1.5l-.5-1l.3-1.2l-.8-.8l-1.2 .3l-.8-.8l-1 0l-.7 .8l.2 1.2l-.5 .5l-.5-.5l.3-1.2l-.8-.8l-2 0l-1 1l-3 0l-1 1.5l-.5 0l-1.5-1l-1.5 0l-1.5-1l-1.5 0l-.5-.5l-5 0l-1.7 1.3l-.3 1.2l-2 0l-1.5 1l-1.5-1.5l-1 0l-.2-1.2l-.8-.8l-3 0l-.5 .5l-1.5 0l-.5 .5l-.5-.5l-1.5 0l-.5-.5l-3 0l-1.7 1.3l-.3-.3l-2 0l-.7 .8l-.3 1.2l-1 0l-.5-.5l.3-1.2l-.8-.8l-4 0l-.7 .8l.2 1.2l-.5 .5l-2 0l-1-1.5l-2 0l-.7 .8l-.3-.3l-6 0l-.5 .5l-1.5 .5l-.5-.5l.3-1.2l-.8-.8l-4 0l-.7 .8l-1.8-.3l-1.5-1l-1 0l-.5 .5l-.5 0l-1 1.5l-1 0l-1-1.5l-2 0l-.7 .8l.2 1.2l-.5 .5l-.5-1l.3-1.2l-.8-.8l-1 0l-.7 .8l-1.3-.8l-1 0l-.7 .8l-.3 1.2l-1-1.5l-1.5 0l-.5-.5l-1 0l-.7 .8l0 1l-.8 .7l-2 0l-.5-.5l-2 0l-.2-1.2l-.8-.8l-1 0l-.7 .8l-.3 1.2l-2 0l-1-1.5l-1 0l-.7 .8l.2 1.2l-.5 .5l-.2-1.2l-.8-.8l-1 0l-1-1l-1 0l-1 1l-1-1l-2 0l-.5 .5l-2.5 0l-1 1.5l-.2-.7l-1.8-1.3l-2 0l-.5 .5l-.5-.5l-1 0l-1.2 .8l-.8-.8l-1 0l-2 3l-4 0l-.5 .5l-1 0l-.5-.5l-.5 0l-.7-.7l0-1l-1.8-1.3l-1 0l-.5 .5l-.5-.5l-1 0l-.7 .8l.2 1.2l-.2 1.3l.2 .2l-1.5 1.5l-.5-1l.3-.2l-.3-1.3l.3-1.2l-.8-.8l-1 0l-.5 .5l-.5-.5l-2 0z" fill="#000" fill-rule="evenodd"/>
<path d="M160.1 959.9l.3-1.7l.9-1l.1-1.5h2.2l.1 1.5l.9 1l.3 1.7zM162.1 959.9l.3-1.7l.9-1l.1-1.5h2.2l.1 1.5l.9 1l.3 1.7zM162.1 959.9l.3-1.7l.9-1l.1-1.5h2.2l.1 1.5l.9 1l.3 1.7zM164.1 959.9l.3-1.7l.9-1l.1-1.5h2.2l.1 1.5l.9 1l.3 1.7zM169.1 959.9l.3-1.7l.9-1l.1-1.5h2.2l.1 1.5l.9 1l.3 1.7zM171.6 959.9l.3-1.7l.9-1l.1-1.5h2.2l.1 1.5l.9 1l.3 1.7zM176.6 959.9l.3-1.7l.9-1l.1-1.5h2.2l.1 1.5l.9 1l.3 1.7zM178.6 959.9l.3-1.7l.9-1l.1-1.5h2.2l.1 1.5l.9 1l.3 1.7zM208.6 959.9l.3-1.7l.9-1l.1-1.5h2.2l.1 1.5l.9 1l.3 1.7zM217.1 959.9l.3-1.7l.9-1l.1-1.5h2.2l.1 1.5l.9 1l.3 1.7zM235.6 959.9l.3-1.7l.9-1l.1-1.5h2.2l.1 1.5l.9 1l.3 1.7zM261.1 959.9l.3-1.7l.9-1l.1-1.5h2.2l.1 1.5l.9 1l.3 1.7zM262.6 959.9l.3-1.7l.9-1l.1-1.5h2.2l.1 1.5l.9 1l.3 1.7zM267.1 959.9l.3-1.7l.9-1l.1-1.5h2.2l.1 1.5l.9 1l.3 1.7zM325.1 959.9l.3-1.7l.9-1l.1-1.5h2.2l.1 1.5l.9 1l.3 1.7zM327.1 959.9l.3-1.7l.9-1l.1-1.5h2.2l.1 1.5l.9 1l.3 1.7zM334.1 959.9l.3-1.7l.9-1l.1-1.5h2.2l.1 1.5l.9 1l.3 1.7zM346.1 959.9l.3-1.7l.9-1l.1-1.5h2.2l.1 1.5l.9 1l.3 1.7zM365.1 959.9l.3-1.7l.9-1l.1-1.5h2.2l.1 1.5l.9 1l.3 1.7zM373.1 959.9l.3-1.7l.9-1l.1-1.5h2.2l.1 1.5l.9 1l.3 1.7zM377.1 959.9l.3-1.7l.9-1l.1-1.5h2.2l.1 1.5l.9 1l.3 1.7zM399.1 959.9l.3-1.7l.9-1l.1-1.5h2.2l.1 1.5l.9 1l.3 1.7zM417.6 959.9l.3-1.7l.9-1l.1-1.5h2.2l.1 1.5l.9 1l.3 1.7zM429.1 959.9l.3-1.7l.9-1l.1-1.5h2.2l.1 1.5l.9 1l.3 1.7zM438.1 959.9l.3-1.7l.9-1l.1-1.5h2.2l.1 1.5l.9 1l.3 1.7zM456.1 959.9l.3-1.7l.9-1l.1-1.5h2.2l.1 1.5l.9 1l.3 1.7zM464.1 959.9l.3-1.7l.9-1l.1-1.5h2.2l.1 1.5l.9 1l.3 1.7zM482.1 959.9l.3-1.7l.9-1l.1-1.5h2.2l.1 1.5l.9 1l.3 1.7zM490.1 959.9l.3-1.7l.9-1l.1-1.5h2.2l.1 1.5l.9 1l.3 1.7zM501.6 959.9l.3-1.7l.9-1l.1-1.5h2.2l.1 1.5l.9 1l.3 1.7zM503.1 959.9l.3-1.7l.9-1l.1-1.5h2.2l.1 1.5l.9 1l.3 1.7zM548.1 959.9l.3-1.7l.9-1l.1-1.5h2.2l.1 1.5l.9 1l.3 1.7zM613.1 959.9l.3-1.7l.9-1l.1-1.5h2.2l.1 1.5l.9 1l.3 1.7zM620.1 959.9l.3-1.7l.9-1l.1-1.5h2.2l.1 1.5l.9 1l.3 1.7zM684.1 959.9l.3-1.7l.9-1l.1-1.5h2.2l.1 1.5l.9 1l.3 1.7zM687.1 959.9l.3-1.7l.9-1l.1-1.5h2.2l.1 1.5l.9 1l.3 1.7zM689.1 959.9l.3-1.7l.9-1l.1-1.5h2.2l.1 1.5l.9 1l.3 1.7zM726.6 959.9l.3-1.7l.9-1l.1-1.5h2.2l.1 1.5l.9 1l.3 1.7zM748.1 959.9l.3-1.7l.9-1l.1-1.5h2.2l.1 1.5l.9 1l.3 1.7zM779.1 959.9l.3-1.7l.9-1l.1-1.5h2.2l.1 1.5l.9 1l.3 1.7zM781.1 959.9l.3-1.7l.9-1l.1-1.5h2.2l.1 1.5l.9 1l.3 1.7zM785.1 959.9l.3-1.7l.9-1l.1-1.5h2.2l.1 1.5l.9 1l.3 1.7zM819.1 959.9l.3-1.7l.9-1l.1-1.5h2.2l.1 1.5l.9 1l.3 1.7zM841.1 959.9l.3-1.7l.9-1l.1-1.5h2.2l.1 1.5l.9 1l.3 1.7zM844.1 959.9l.3-1.7l.9-1l.1-1.5h2.2l.1 1.5l.9 1l.3 1.7zM861.1 959.9l.3-1.7l.9-1l.1-1.5h2.2l.1 1.5l.9 1l.3 1.7zM871.1 959.9l.3-1.7l.9-1l.1-1.5h2.2l.1 1.5l.9 1l.3 1.7zM873.1 959.9l.3-1.7l.9-1l.1-1.5h2.2l.1 1.5l.9 1l.3 1.7zM898.1 959.9l.3-1.7l.9-1l.1-1.5h2.2l.1 1.5l.9 1l.3 1.7zM916.1 959.9l.3-1.7l.9-1l.1-1.5h2.2l.1 1.5l.9 1l.3 1.7zM954.1 959.9l.3-1.7l.9-1l.1-1.5h2.2l.1 1.5l.9 1l.3 1.7zM956.1 959.9l.3-1.7l.9-1l.1-1.5h2.2l.1 1.5l.9 1l.3 1.7zM959.1 959.9l.3-1.7l.9-1l.1-1.5h2.2l.1 1.5l.9 1l.3 1.7zM1013.1 959.9l.3-1.7l.9-1l.1-1.5h2.2l.1 1.5l.9 1l.3 1.7zM1045.1 959.9l.3-1.7l.9-1l.1-1.5h2.2l.1 1.5l.9 1l.3 1.7zM1047.1 959.9l.3-1.7l.9-1l.1-1.5h2.2l.1 1.5l.9 1l.3 1.7zM1138.1 959.9l.3-1.7l.9-1l.1-1.5h2.2l.1 1.5l.9 1l.3 1.7zM1140.1 959.9l.3-1.7l.9-1l.1-1.5h2.2l.1 1.5l.9 1l.3 1.7zM1152.1 959.9l.3-1.7l.9-1l.1-1.5h2.2l.1 1.5l.9 1l.3 1.7zM1182.1 959.9l.3-1.7l.9-1l.1-1.5h2.2l.1 1.5l.9 1l.3 1.7zM1182.1 959.9l.3-1.7l.9-1l.1-1.5h2.2l.1 1.5l.9 1l.3 1.7zM1183.6 959.9l.3-1.7l.9-1l.1-1.5h2.2l.1 1.5l.9 1l.3 1.7zM1184.1 959.9l.3-1.7l.9-1l.1-1.5h2.2l.1 1.5l.9 1l.3 1.7zM1200.1 959.9l.3-1.7l.9-1l.1-1.5h2.2l.1 1.5l.9 1l.3 1.7zM1208.1 959.9l.3-1.7l.9-1l.1-1.5h2.2l.1 1.5l.9 1l.3 1.7zM1222.1 959.9l.3-1.7l.9-1l.1-1.5h2.2l.1 1.5l.9 1l.3 1.7zM1230.1 959.9l.3-1.7l.9-1l.1-1.5h2.2l.1 1.5l.9 1l.3 1.7zM1240.1 959.9l.3-1.7l.9-1l.1-1.5h2.2l.1 1.5l.9 1l.3 1.7zM1242.1 959.9l.3-1.7l.9-1l.1-1.5h2.2l.1 1.5l.9 1l.3 1.7zM1286.1 959.9l.3-1.7l.9-1l.1-1.5h2.2l.1 1.5l.9 1l.3 1.7zM1300.1 959.9l.3-1.7l.9-1l.1-1.5h2.2l.1 1.5l.9 1l.3 1.7z" fill="#f00" stroke="#f00" stroke-width="0.3" stroke-linejoin="round"/>
<line x1="105.5" y1="1009.5" x2="1485.5" y2="1009.5" stroke="#b0b0b0" stroke-width="1.11" stroke-dasharray="1.11 1.834"/>
<line x1="105.5" y1="983.5" x2="1485.5" y2="983.5" stroke="#b0b0b0" stroke-width="1.11" stroke-dasharray="1.11 1.834"/>
<line x1="105.5" y1="957.5" x2="1485.5" y2="957.5" stroke="#b0b0b0" stroke-width="1.11" stroke-dasharray="1.11 1.834"/>
<path d="M162 1011.15V954.5M689 1011.15V954.5M781 1011.15V954.5M873 1011.15V954.5M956 1011.15V954.5M1047 1011.15V954.5M1140 1011.15V954.5M1184 1011.15V954.5M1242 1011.15V954.5M1303 1011.15V954.5" stroke="#800080" stroke-width="2.04" stroke-dasharray="2.3 3.22" fill="none"/>
</g>
<rect x="105.5" y="725.5" width="1380.0" height="229.0" fill="none" stroke="#000" stroke-width="1.11" stroke-linejoin="miter"/>
<rect x="105.5" y="954.5" width="1380.0" height="57.0" fill="none" stroke="#000" stroke-width="1.11" stroke-linejoin="miter"/>
<line x1="100.1" y1="763.5" x2="105.5" y2="763.5" stroke="#000" stroke-width="1.11" />
<text x="95.5" y="769" font-size="13.89" text-anchor="end" letter-spacing="-0.04">not Kalman</text>
<line x1="100.1" y1="802.5" x2="105.5" y2="802.5" stroke="#000" stroke-width="1.11" />
<text x="95.5" y="807" font-size="13.89" text-anchor="end" letter-spacing="-0.04">not track</text>
<line x1="100.1" y1="840.5" x2="105.5" y2="840.5" stroke="#000" stroke-width="1.11" />
<text x="95.5" y="845" font-size="13.89" text-anchor="end" letter-spacing="-0.04">Ion. rad.</text>
<line x1="100.1" y1="878.5" x2="105.5" y2="878.5" stroke="#000" stroke-width="1.11" />
<text x="95.5" y="883" font-size="13.89" text-anchor="end" letter-spacing="-0.04">dr &gt; 5</text>
<line x1="100.1" y1="916.5" x2="105.5" y2="916.5" stroke="#000" stroke-width="1.11" />
<text x="95.5" y="921" font-size="13.89" text-anchor="end" letter-spacing="-0.04">OBS not OK</text>
<line x1="100.1" y1="1009.5" x2="105.5" y2="1009.5" stroke="#000" stroke-width="1.11" />
<text x="96.4" y="1014" font-size="13.89" text-anchor="end" letter-spacing="-0.3">0</text>
<line x1="100.1" y1="983.5" x2="105.5" y2="983.5" stroke="#000" stroke-width="1.11" />
<text x="95.4" y="988" font-size="13.89" text-anchor="end" letter-spacing="-0.3">5</text>
<line x1="100.1" y1="957.5" x2="105.5" y2="957.5" stroke="#000" stroke-width="1.11" />
<text x="95.4" y="962" font-size="13.89" text-anchor="end" letter-spacing="-0.3">10</text>
<line x1="102.2" y1="996.5" x2="105.5" y2="996.5" stroke="#000" stroke-width="0.83" />
<line x1="102.2" y1="970.5" x2="105.5" y2="970.5" stroke="#000" stroke-width="0.83" />
<text transform="translate(68.5,983.9) rotate(-90)" font-size="13.89" text-anchor="middle">dr</text>
<line x1="162.5" y1="1011.5" x2="162.5" y2="1016.9" stroke="#000" stroke-width="1.11" />
<text x="163.25" y="1032" font-size="13.89" text-anchor="middle" letter-spacing="-0.09">0</text>
<line x1="408.5" y1="1011.5" x2="408.5" y2="1016.9" stroke="#000" stroke-width="1.11" />
<text x="407.55" y="1032" font-size="13.89" text-anchor="middle" letter-spacing="-0.09">10000</text>
<line x1="653.5" y1="1011.5" x2="653.5" y2="1016.9" stroke="#000" stroke-width="1.11" />
<text x="652.9" y="1032" font-size="13.89" text-anchor="middle" letter-spacing="-0.09">20000</text>
<line x1="898.5" y1="1011.5" x2="898.5" y2="1016.9" stroke="#000" stroke-width="1.11" />
<text x="897.55" y="1032" font-size="13.89" text-anchor="middle" letter-spacing="-0.09">30000</text>
<line x1="1143.5" y1="1011.5" x2="1143.5" y2="1016.9" stroke="#000" stroke-width="1.11" />
<text x="1143.25" y="1032" font-size="13.89" text-anchor="middle" letter-spacing="-0.09">40000</text>
<line x1="1389.5" y1="1011.5" x2="1389.5" y2="1016.9" stroke="#000" stroke-width="1.11" />
<text x="1387.45" y="1032" font-size="13.89" text-anchor="middle" letter-spacing="-0.09">50000</text>
</g>
</svg>
</body></html>
